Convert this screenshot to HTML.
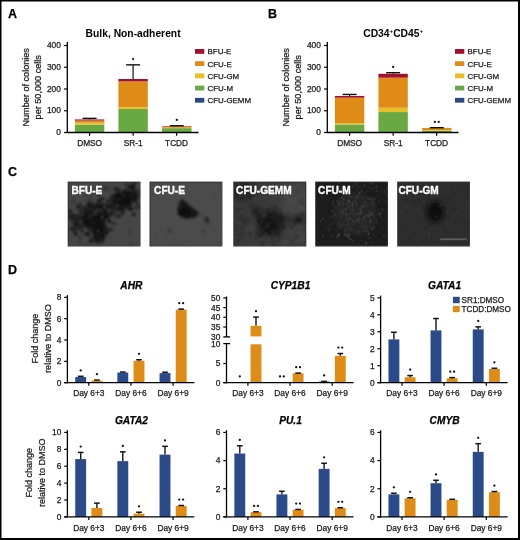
<!DOCTYPE html>
<html><head><meta charset="utf-8"><style>
html,body{margin:0;padding:0;background:#fff;width:520px;height:540px;overflow:hidden}
svg{display:block;will-change:transform}
text{font-family:"Liberation Sans", sans-serif;paint-order:stroke}
</style></head><body>
<svg width="520" height="540" viewBox="0 0 520 540" font-family='"Liberation Sans", sans-serif'>
<rect x="0.00" y="0.00" width="520.00" height="540.00" fill="#fff"/>
<text x="8.00" y="17.80" font-size="12.5" text-anchor="start" font-weight="bold" font-style="normal" fill="#000" stroke="#000" stroke-width="0.25">A</text>
<text x="133.1" y="36.7" font-size="10.3" font-weight="bold" text-anchor="middle" fill="#000">Bulk, Non-adherent</text>
<rect x="74.90" y="124.67" width="29.40" height="7.83" fill="#69a842"/>
<rect x="74.90" y="122.71" width="29.40" height="1.96" fill="#e8bf2a"/>
<rect x="74.90" y="120.54" width="29.40" height="2.17" fill="#df8b18"/>
<rect x="74.90" y="119.45" width="29.40" height="1.09" fill="#a3102e"/>
<line x1="89.60" y1="119.45" x2="89.60" y2="118.36" stroke="#111" stroke-width="1.2"/>
<line x1="82.60" y1="118.36" x2="96.60" y2="118.36" stroke="#111" stroke-width="1.4"/>
<rect x="118.40" y="109.01" width="29.40" height="23.49" fill="#69a842"/>
<rect x="118.40" y="107.27" width="29.40" height="1.74" fill="#e8bf2a"/>
<rect x="118.40" y="81.39" width="29.40" height="25.88" fill="#df8b18"/>
<rect x="118.40" y="79.00" width="29.40" height="2.39" fill="#a3102e"/>
<line x1="133.10" y1="79.00" x2="133.10" y2="64.86" stroke="#111" stroke-width="1.2"/>
<line x1="126.10" y1="64.86" x2="140.10" y2="64.86" stroke="#111" stroke-width="1.4"/>
<circle cx="133.10" cy="59.06" r="1.15" fill="#111"/>
<rect x="162.10" y="128.15" width="29.40" height="4.35" fill="#69a842"/>
<rect x="162.10" y="127.72" width="29.40" height="0.43" fill="#e8bf2a"/>
<rect x="162.10" y="126.41" width="29.40" height="1.30" fill="#df8b18"/>
<rect x="162.10" y="125.97" width="29.40" height="0.43" fill="#a3102e"/>
<line x1="176.80" y1="125.97" x2="176.80" y2="125.76" stroke="#111" stroke-width="1.2"/>
<line x1="169.80" y1="125.76" x2="183.80" y2="125.76" stroke="#111" stroke-width="1.4"/>
<circle cx="176.80" cy="119.96" r="1.15" fill="#111"/>
<line x1="67.30" y1="42.00" x2="67.30" y2="133.10" stroke="#000" stroke-width="1.3"/>
<line x1="66.70" y1="132.50" x2="198.50" y2="132.50" stroke="#000" stroke-width="1.3"/>
<line x1="64.10" y1="132.50" x2="67.30" y2="132.50" stroke="#000" stroke-width="1.2"/>
<text x="60.90" y="135.00" font-size="8.4" text-anchor="end" font-weight="normal" font-style="normal" fill="#1a1a1a" stroke="#1a1a1a" stroke-width="0.25">0</text>
<line x1="64.10" y1="110.75" x2="67.30" y2="110.75" stroke="#000" stroke-width="1.2"/>
<text x="60.90" y="113.25" font-size="8.4" text-anchor="end" font-weight="normal" font-style="normal" fill="#1a1a1a" stroke="#1a1a1a" stroke-width="0.25">100</text>
<line x1="64.10" y1="89.00" x2="67.30" y2="89.00" stroke="#000" stroke-width="1.2"/>
<text x="60.90" y="91.50" font-size="8.4" text-anchor="end" font-weight="normal" font-style="normal" fill="#1a1a1a" stroke="#1a1a1a" stroke-width="0.25">200</text>
<line x1="64.10" y1="67.25" x2="67.30" y2="67.25" stroke="#000" stroke-width="1.2"/>
<text x="60.90" y="69.75" font-size="8.4" text-anchor="end" font-weight="normal" font-style="normal" fill="#1a1a1a" stroke="#1a1a1a" stroke-width="0.25">300</text>
<line x1="64.10" y1="45.50" x2="67.30" y2="45.50" stroke="#000" stroke-width="1.2"/>
<text x="60.90" y="48.00" font-size="8.4" text-anchor="end" font-weight="normal" font-style="normal" fill="#1a1a1a" stroke="#1a1a1a" stroke-width="0.25">400</text>
<line x1="89.60" y1="132.50" x2="89.60" y2="135.70" stroke="#000" stroke-width="1.2"/>
<text x="89.60" y="146.30" font-size="8.3" text-anchor="middle" font-weight="normal" font-style="normal" fill="#1a1a1a" stroke="#1a1a1a" stroke-width="0.25">DMSO</text>
<line x1="133.20" y1="132.50" x2="133.20" y2="135.70" stroke="#000" stroke-width="1.2"/>
<text x="133.20" y="146.30" font-size="8.3" text-anchor="middle" font-weight="normal" font-style="normal" fill="#1a1a1a" stroke="#1a1a1a" stroke-width="0.25">SR-1</text>
<line x1="176.60" y1="132.50" x2="176.60" y2="135.70" stroke="#000" stroke-width="1.2"/>
<text x="176.60" y="146.30" font-size="8.3" text-anchor="middle" font-weight="normal" font-style="normal" fill="#1a1a1a" stroke="#1a1a1a" stroke-width="0.25">TCDD</text>
<text transform="translate(29.0,87.3) rotate(-90) scale(0.96,1)" font-size="9.5" text-anchor="middle" fill="#1a1a1a" stroke="#1a1a1a" stroke-width="0.25">Number of colonies</text>
<text transform="translate(40.9,87.3) rotate(-90) scale(0.96,1)" font-size="9.5" text-anchor="middle" fill="#1a1a1a" stroke="#1a1a1a" stroke-width="0.25">per 50,000 cells</text>
<rect x="195.00" y="49.00" width="9.30" height="4.80" fill="#a3102e"/>
<text x="207.60" y="54.30" font-size="7.9" text-anchor="start" font-weight="normal" font-style="normal" fill="#1a1a1a" stroke="#1a1a1a" stroke-width="0.25">BFU-E</text>
<rect x="195.00" y="61.22" width="9.30" height="4.80" fill="#df8b18"/>
<text x="207.60" y="66.52" font-size="7.9" text-anchor="start" font-weight="normal" font-style="normal" fill="#1a1a1a" stroke="#1a1a1a" stroke-width="0.25">CFU-E</text>
<rect x="195.00" y="73.44" width="9.30" height="4.80" fill="#e8bf2a"/>
<text x="207.60" y="78.74" font-size="7.9" text-anchor="start" font-weight="normal" font-style="normal" fill="#1a1a1a" stroke="#1a1a1a" stroke-width="0.25">CFU-GM</text>
<rect x="195.00" y="85.66" width="9.30" height="4.80" fill="#69a842"/>
<text x="207.60" y="90.96" font-size="7.9" text-anchor="start" font-weight="normal" font-style="normal" fill="#1a1a1a" stroke="#1a1a1a" stroke-width="0.25">CFU-M</text>
<rect x="195.00" y="97.88" width="9.30" height="4.80" fill="#2c4a7e"/>
<text x="207.60" y="103.18" font-size="7.9" text-anchor="start" font-weight="normal" font-style="normal" fill="#1a1a1a" stroke="#1a1a1a" stroke-width="0.25">CFU-GEMM</text>
<text x="268.00" y="17.80" font-size="12.5" text-anchor="start" font-weight="bold" font-style="normal" fill="#000" stroke="#000" stroke-width="0.25">B</text>
<text x="393.2" y="36.5" font-size="10.3" font-weight="bold" text-anchor="middle" fill="#000">CD34<tspan font-size="6.2" dy="-3.9">+</tspan><tspan dy="3.9">CD45</tspan><tspan font-size="6.2" dy="-3.9">+</tspan></text>
<rect x="334.90" y="124.45" width="29.40" height="8.05" fill="#69a842"/>
<rect x="334.90" y="123.15" width="29.40" height="1.30" fill="#e8bf2a"/>
<rect x="334.90" y="97.70" width="29.40" height="25.45" fill="#df8b18"/>
<rect x="334.90" y="95.96" width="29.40" height="1.74" fill="#a3102e"/>
<line x1="349.60" y1="95.96" x2="349.60" y2="94.44" stroke="#111" stroke-width="1.2"/>
<line x1="342.60" y1="94.44" x2="356.60" y2="94.44" stroke="#111" stroke-width="1.4"/>
<rect x="378.40" y="112.06" width="29.40" height="20.45" fill="#69a842"/>
<rect x="378.40" y="107.70" width="29.40" height="4.35" fill="#e8bf2a"/>
<rect x="378.40" y="77.69" width="29.40" height="30.02" fill="#df8b18"/>
<rect x="378.40" y="73.78" width="29.40" height="3.92" fill="#a3102e"/>
<line x1="393.10" y1="73.78" x2="393.10" y2="72.69" stroke="#111" stroke-width="1.2"/>
<line x1="386.10" y1="72.69" x2="400.10" y2="72.69" stroke="#111" stroke-width="1.4"/>
<circle cx="393.10" cy="66.89" r="1.15" fill="#111"/>
<rect x="422.10" y="130.76" width="29.40" height="1.74" fill="#69a842"/>
<rect x="422.10" y="130.11" width="29.40" height="0.65" fill="#e8bf2a"/>
<rect x="422.10" y="127.93" width="29.40" height="2.17" fill="#df8b18"/>
<rect x="422.10" y="127.93" width="29.40" height="0.00" fill="#a3102e"/>
<line x1="436.80" y1="127.93" x2="436.80" y2="127.72" stroke="#111" stroke-width="1.2"/>
<line x1="429.80" y1="127.72" x2="443.80" y2="127.72" stroke="#111" stroke-width="1.4"/>
<circle cx="434.90" cy="121.92" r="1.15" fill="#111"/>
<circle cx="438.70" cy="121.92" r="1.15" fill="#111"/>
<line x1="327.30" y1="42.00" x2="327.30" y2="133.10" stroke="#000" stroke-width="1.3"/>
<line x1="326.70" y1="132.50" x2="458.50" y2="132.50" stroke="#000" stroke-width="1.3"/>
<line x1="324.10" y1="132.50" x2="327.30" y2="132.50" stroke="#000" stroke-width="1.2"/>
<text x="320.90" y="135.00" font-size="8.4" text-anchor="end" font-weight="normal" font-style="normal" fill="#1a1a1a" stroke="#1a1a1a" stroke-width="0.25">0</text>
<line x1="324.10" y1="110.75" x2="327.30" y2="110.75" stroke="#000" stroke-width="1.2"/>
<text x="320.90" y="113.25" font-size="8.4" text-anchor="end" font-weight="normal" font-style="normal" fill="#1a1a1a" stroke="#1a1a1a" stroke-width="0.25">100</text>
<line x1="324.10" y1="89.00" x2="327.30" y2="89.00" stroke="#000" stroke-width="1.2"/>
<text x="320.90" y="91.50" font-size="8.4" text-anchor="end" font-weight="normal" font-style="normal" fill="#1a1a1a" stroke="#1a1a1a" stroke-width="0.25">200</text>
<line x1="324.10" y1="67.25" x2="327.30" y2="67.25" stroke="#000" stroke-width="1.2"/>
<text x="320.90" y="69.75" font-size="8.4" text-anchor="end" font-weight="normal" font-style="normal" fill="#1a1a1a" stroke="#1a1a1a" stroke-width="0.25">300</text>
<line x1="324.10" y1="45.50" x2="327.30" y2="45.50" stroke="#000" stroke-width="1.2"/>
<text x="320.90" y="48.00" font-size="8.4" text-anchor="end" font-weight="normal" font-style="normal" fill="#1a1a1a" stroke="#1a1a1a" stroke-width="0.25">400</text>
<line x1="349.60" y1="132.50" x2="349.60" y2="135.70" stroke="#000" stroke-width="1.2"/>
<text x="349.60" y="146.30" font-size="8.3" text-anchor="middle" font-weight="normal" font-style="normal" fill="#1a1a1a" stroke="#1a1a1a" stroke-width="0.25">DMSO</text>
<line x1="393.20" y1="132.50" x2="393.20" y2="135.70" stroke="#000" stroke-width="1.2"/>
<text x="393.20" y="146.30" font-size="8.3" text-anchor="middle" font-weight="normal" font-style="normal" fill="#1a1a1a" stroke="#1a1a1a" stroke-width="0.25">SR-1</text>
<line x1="436.60" y1="132.50" x2="436.60" y2="135.70" stroke="#000" stroke-width="1.2"/>
<text x="436.60" y="146.30" font-size="8.3" text-anchor="middle" font-weight="normal" font-style="normal" fill="#1a1a1a" stroke="#1a1a1a" stroke-width="0.25">TCDD</text>
<text transform="translate(289.0,87.3) rotate(-90) scale(0.96,1)" font-size="9.5" text-anchor="middle" fill="#1a1a1a" stroke="#1a1a1a" stroke-width="0.25">Number of colonies</text>
<text transform="translate(300.9,87.3) rotate(-90) scale(0.96,1)" font-size="9.5" text-anchor="middle" fill="#1a1a1a" stroke="#1a1a1a" stroke-width="0.25">per 50,000 cells</text>
<rect x="455.00" y="49.00" width="9.30" height="4.80" fill="#a3102e"/>
<text x="467.60" y="54.30" font-size="7.9" text-anchor="start" font-weight="normal" font-style="normal" fill="#1a1a1a" stroke="#1a1a1a" stroke-width="0.25">BFU-E</text>
<rect x="455.00" y="61.22" width="9.30" height="4.80" fill="#df8b18"/>
<text x="467.60" y="66.52" font-size="7.9" text-anchor="start" font-weight="normal" font-style="normal" fill="#1a1a1a" stroke="#1a1a1a" stroke-width="0.25">CFU-E</text>
<rect x="455.00" y="73.44" width="9.30" height="4.80" fill="#e8bf2a"/>
<text x="467.60" y="78.74" font-size="7.9" text-anchor="start" font-weight="normal" font-style="normal" fill="#1a1a1a" stroke="#1a1a1a" stroke-width="0.25">CFU-GM</text>
<rect x="455.00" y="85.66" width="9.30" height="4.80" fill="#69a842"/>
<text x="467.60" y="90.96" font-size="7.9" text-anchor="start" font-weight="normal" font-style="normal" fill="#1a1a1a" stroke="#1a1a1a" stroke-width="0.25">CFU-M</text>
<rect x="455.00" y="97.88" width="9.30" height="4.80" fill="#2c4a7e"/>
<text x="467.60" y="103.18" font-size="7.9" text-anchor="start" font-weight="normal" font-style="normal" fill="#1a1a1a" stroke="#1a1a1a" stroke-width="0.25">CFU-GEMM</text>
<text x="8.00" y="175.60" font-size="12.5" text-anchor="start" font-weight="bold" font-style="normal" fill="#000" stroke="#000" stroke-width="0.25">C</text>
<svg x="67.7" y="181.6" width="72.5" height="64.6" viewBox="0 0 72.5 64.6">
<defs><filter id="bl1" x="-20%" y="-20%" width="140%" height="140%"><feGaussianBlur stdDeviation="0.9"/></filter><filter id="bb1" x="-50%" y="-50%" width="200%" height="200%"><feGaussianBlur stdDeviation="2.2"/></filter></defs>
<rect width="72.5" height="64.6" fill="#464646"/>
<g filter="url(#bb1)">
<ellipse cx="27.0" cy="36.0" rx="14.0" ry="11.0" fill="#141414" opacity="0.90" transform="rotate(-20 27.0 36.0)"/>
<ellipse cx="54.0" cy="20.0" rx="13.0" ry="8.0" fill="#1a1a1a" opacity="0.85" transform="rotate(-30 54.0 20.0)"/>
<ellipse cx="31.0" cy="53.0" rx="6.0" ry="7.0" fill="#1a1a1a" opacity="0.80" transform="rotate(0 31.0 53.0)"/>
<ellipse cx="10.0" cy="40.0" rx="5.0" ry="10.0" fill="#2a2a2a" opacity="0.50" transform="rotate(0 10.0 40.0)"/>
</g>
<g filter="url(#bl1)">
<circle cx="39.9" cy="49.0" r="1.8" fill="#0e0e0e" opacity="0.69"/>
<circle cx="16.1" cy="36.3" r="1.7" fill="#0e0e0e" opacity="0.88"/>
<circle cx="29.0" cy="37.2" r="1.9" fill="#0e0e0e" opacity="0.75"/>
<circle cx="27.1" cy="35.4" r="1.5" fill="#0e0e0e" opacity="0.85"/>
<circle cx="30.2" cy="57.5" r="1.9" fill="#0e0e0e" opacity="0.61"/>
<circle cx="39.3" cy="37.8" r="1.9" fill="#0e0e0e" opacity="0.73"/>
<circle cx="29.2" cy="45.2" r="1.1" fill="#0e0e0e" opacity="0.68"/>
<circle cx="16.2" cy="40.0" r="1.3" fill="#0e0e0e" opacity="0.68"/>
<circle cx="29.2" cy="45.8" r="1.4" fill="#0e0e0e" opacity="0.61"/>
<circle cx="33.7" cy="26.2" r="1.7" fill="#0e0e0e" opacity="0.67"/>
<circle cx="46.8" cy="35.2" r="1.2" fill="#0e0e0e" opacity="0.72"/>
<circle cx="24.2" cy="22.0" r="1.9" fill="#0e0e0e" opacity="0.75"/>
<circle cx="34.2" cy="24.3" r="1.4" fill="#0e0e0e" opacity="0.81"/>
<circle cx="41.3" cy="24.3" r="1.6" fill="#0e0e0e" opacity="0.81"/>
<circle cx="34.3" cy="37.4" r="1.8" fill="#0e0e0e" opacity="0.75"/>
<circle cx="32.9" cy="46.1" r="1.7" fill="#0e0e0e" opacity="0.84"/>
<circle cx="19.4" cy="42.9" r="1.6" fill="#0e0e0e" opacity="0.87"/>
<circle cx="17.1" cy="34.8" r="1.5" fill="#0e0e0e" opacity="0.61"/>
<circle cx="42.0" cy="39.8" r="2.0" fill="#0e0e0e" opacity="0.81"/>
<circle cx="22.2" cy="39.4" r="1.6" fill="#0e0e0e" opacity="0.94"/>
<circle cx="28.6" cy="24.9" r="1.9" fill="#0e0e0e" opacity="0.68"/>
<circle cx="2.4" cy="34.1" r="1.6" fill="#0e0e0e" opacity="0.76"/>
<circle cx="25.5" cy="47.3" r="2.0" fill="#0e0e0e" opacity="0.60"/>
<circle cx="30.9" cy="19.7" r="1.9" fill="#0e0e0e" opacity="0.86"/>
<circle cx="31.4" cy="25.9" r="1.6" fill="#0e0e0e" opacity="0.75"/>
<circle cx="46.0" cy="42.3" r="1.6" fill="#0e0e0e" opacity="0.67"/>
<circle cx="15.5" cy="35.7" r="1.4" fill="#0e0e0e" opacity="0.72"/>
<circle cx="13.4" cy="33.0" r="1.7" fill="#0e0e0e" opacity="0.76"/>
<circle cx="34.1" cy="37.1" r="1.3" fill="#0e0e0e" opacity="0.80"/>
<circle cx="38.5" cy="23.7" r="1.8" fill="#0e0e0e" opacity="0.89"/>
<circle cx="26.4" cy="53.3" r="1.7" fill="#0e0e0e" opacity="0.63"/>
<circle cx="28.7" cy="36.2" r="1.8" fill="#0e0e0e" opacity="0.69"/>
<circle cx="37.8" cy="44.0" r="1.4" fill="#0e0e0e" opacity="0.62"/>
<circle cx="33.6" cy="45.3" r="1.3" fill="#0e0e0e" opacity="0.70"/>
<circle cx="24.4" cy="26.4" r="1.4" fill="#0e0e0e" opacity="0.77"/>
<circle cx="36.8" cy="37.3" r="1.5" fill="#0e0e0e" opacity="0.67"/>
<circle cx="43.6" cy="48.2" r="1.6" fill="#0e0e0e" opacity="0.67"/>
<circle cx="12.5" cy="25.8" r="1.1" fill="#0e0e0e" opacity="0.61"/>
<circle cx="36.6" cy="47.4" r="1.2" fill="#0e0e0e" opacity="0.85"/>
<circle cx="21.5" cy="25.8" r="1.3" fill="#0e0e0e" opacity="0.94"/>
<circle cx="30.6" cy="25.6" r="1.3" fill="#0e0e0e" opacity="0.83"/>
<circle cx="16.7" cy="43.2" r="1.4" fill="#0e0e0e" opacity="0.82"/>
<circle cx="34.9" cy="38.7" r="2.0" fill="#0e0e0e" opacity="0.91"/>
<circle cx="20.1" cy="52.7" r="1.4" fill="#0e0e0e" opacity="0.93"/>
<circle cx="26.6" cy="26.7" r="1.3" fill="#0e0e0e" opacity="0.60"/>
<circle cx="29.0" cy="34.3" r="1.8" fill="#0e0e0e" opacity="0.94"/>
<circle cx="21.5" cy="33.6" r="1.9" fill="#0e0e0e" opacity="0.94"/>
<circle cx="23.6" cy="25.7" r="1.4" fill="#0e0e0e" opacity="0.72"/>
<circle cx="31.1" cy="49.0" r="1.5" fill="#0e0e0e" opacity="0.67"/>
<circle cx="38.7" cy="44.1" r="1.4" fill="#0e0e0e" opacity="0.77"/>
<circle cx="17.8" cy="52.2" r="1.9" fill="#0e0e0e" opacity="0.61"/>
<circle cx="29.7" cy="43.6" r="2.0" fill="#0e0e0e" opacity="0.87"/>
<circle cx="23.3" cy="41.3" r="1.7" fill="#0e0e0e" opacity="0.89"/>
<circle cx="35.4" cy="32.6" r="1.9" fill="#0e0e0e" opacity="0.84"/>
<circle cx="-2.0" cy="38.5" r="1.3" fill="#0e0e0e" opacity="0.85"/>
<circle cx="32.3" cy="38.8" r="1.9" fill="#0e0e0e" opacity="0.67"/>
<circle cx="27.8" cy="23.8" r="1.9" fill="#0e0e0e" opacity="0.73"/>
<circle cx="22.5" cy="42.3" r="1.9" fill="#0e0e0e" opacity="0.81"/>
<circle cx="47.0" cy="30.7" r="1.2" fill="#0e0e0e" opacity="0.79"/>
<circle cx="29.2" cy="37.5" r="1.2" fill="#0e0e0e" opacity="0.90"/>
<circle cx="31.5" cy="19.6" r="1.4" fill="#0e0e0e" opacity="0.82"/>
<circle cx="28.9" cy="27.4" r="1.6" fill="#0e0e0e" opacity="0.68"/>
<circle cx="33.9" cy="39.5" r="1.9" fill="#0e0e0e" opacity="0.80"/>
<circle cx="36.9" cy="31.5" r="1.3" fill="#0e0e0e" opacity="0.88"/>
<circle cx="27.7" cy="34.7" r="1.7" fill="#0e0e0e" opacity="0.63"/>
<circle cx="42.6" cy="48.4" r="1.1" fill="#0e0e0e" opacity="0.68"/>
<circle cx="37.4" cy="35.3" r="1.2" fill="#0e0e0e" opacity="0.66"/>
<circle cx="27.9" cy="50.8" r="1.2" fill="#0e0e0e" opacity="0.92"/>
<circle cx="7.9" cy="52.5" r="1.9" fill="#0e0e0e" opacity="0.70"/>
<circle cx="26.8" cy="46.2" r="1.2" fill="#0e0e0e" opacity="0.83"/>
<circle cx="28.4" cy="36.3" r="2.0" fill="#0e0e0e" opacity="0.70"/>
<circle cx="18.0" cy="30.4" r="1.4" fill="#0e0e0e" opacity="0.62"/>
<circle cx="49.6" cy="23.7" r="2.0" fill="#0e0e0e" opacity="0.64"/>
<circle cx="30.0" cy="48.2" r="2.0" fill="#0e0e0e" opacity="0.79"/>
<circle cx="21.4" cy="23.7" r="1.3" fill="#0e0e0e" opacity="0.79"/>
<circle cx="24.3" cy="42.3" r="1.2" fill="#0e0e0e" opacity="0.70"/>
<circle cx="37.8" cy="35.0" r="1.7" fill="#0e0e0e" opacity="0.83"/>
<circle cx="36.3" cy="32.7" r="1.4" fill="#0e0e0e" opacity="0.71"/>
<circle cx="19.1" cy="51.9" r="1.9" fill="#0e0e0e" opacity="0.71"/>
<circle cx="20.7" cy="45.7" r="1.6" fill="#0e0e0e" opacity="0.81"/>
<circle cx="27.1" cy="37.8" r="1.3" fill="#0e0e0e" opacity="0.63"/>
<circle cx="23.4" cy="34.9" r="1.2" fill="#0e0e0e" opacity="0.82"/>
<circle cx="22.5" cy="51.4" r="1.5" fill="#0e0e0e" opacity="0.90"/>
<circle cx="33.7" cy="44.8" r="1.8" fill="#0e0e0e" opacity="0.63"/>
<circle cx="32.9" cy="34.3" r="1.8" fill="#0e0e0e" opacity="0.94"/>
<circle cx="30.8" cy="28.9" r="1.2" fill="#0e0e0e" opacity="0.78"/>
<circle cx="34.3" cy="32.4" r="1.9" fill="#0e0e0e" opacity="0.65"/>
<circle cx="29.1" cy="34.8" r="1.4" fill="#0e0e0e" opacity="0.92"/>
<circle cx="34.2" cy="17.5" r="1.9" fill="#0e0e0e" opacity="0.86"/>
<circle cx="24.7" cy="30.8" r="1.5" fill="#0e0e0e" opacity="0.66"/>
<circle cx="23.7" cy="23.0" r="1.3" fill="#0e0e0e" opacity="0.62"/>
<circle cx="44.7" cy="32.3" r="1.6" fill="#0e0e0e" opacity="0.79"/>
<circle cx="33.5" cy="28.0" r="1.5" fill="#0e0e0e" opacity="0.72"/>
<circle cx="26.9" cy="38.0" r="1.7" fill="#0e0e0e" opacity="0.75"/>
<circle cx="23.8" cy="34.6" r="1.4" fill="#0e0e0e" opacity="0.65"/>
<circle cx="32.5" cy="40.9" r="1.8" fill="#0e0e0e" opacity="0.74"/>
<circle cx="15.8" cy="43.2" r="1.3" fill="#0e0e0e" opacity="0.60"/>
<circle cx="15.4" cy="34.1" r="1.7" fill="#0e0e0e" opacity="0.75"/>
<circle cx="20.7" cy="22.6" r="1.3" fill="#0e0e0e" opacity="0.77"/>
<circle cx="19.9" cy="36.9" r="1.5" fill="#0e0e0e" opacity="0.80"/>
<circle cx="45.6" cy="24.9" r="1.3" fill="#0e0e0e" opacity="0.83"/>
<circle cx="30.7" cy="37.0" r="1.6" fill="#0e0e0e" opacity="0.91"/>
<circle cx="36.2" cy="48.9" r="1.9" fill="#0e0e0e" opacity="0.71"/>
<circle cx="20.1" cy="19.6" r="1.4" fill="#0e0e0e" opacity="0.85"/>
<circle cx="25.9" cy="24.0" r="1.9" fill="#0e0e0e" opacity="0.91"/>
<circle cx="39.6" cy="33.1" r="1.3" fill="#0e0e0e" opacity="0.69"/>
<circle cx="29.6" cy="47.4" r="1.8" fill="#0e0e0e" opacity="0.62"/>
<circle cx="20.4" cy="23.0" r="1.4" fill="#0e0e0e" opacity="0.78"/>
<circle cx="35.3" cy="48.5" r="1.1" fill="#0e0e0e" opacity="0.94"/>
<circle cx="32.0" cy="24.2" r="1.3" fill="#0e0e0e" opacity="0.92"/>
<circle cx="32.3" cy="34.8" r="1.8" fill="#0e0e0e" opacity="0.89"/>
<circle cx="18.7" cy="24.2" r="1.5" fill="#0e0e0e" opacity="0.92"/>
<circle cx="36.7" cy="34.4" r="1.8" fill="#0e0e0e" opacity="0.75"/>
<circle cx="31.5" cy="42.9" r="1.2" fill="#0e0e0e" opacity="0.92"/>
<circle cx="31.9" cy="34.9" r="1.6" fill="#0e0e0e" opacity="0.74"/>
<circle cx="33.2" cy="41.1" r="1.3" fill="#0e0e0e" opacity="0.86"/>
<circle cx="33.5" cy="36.1" r="1.5" fill="#0e0e0e" opacity="0.61"/>
<circle cx="17.5" cy="27.2" r="1.9" fill="#0e0e0e" opacity="0.67"/>
<circle cx="24.3" cy="47.0" r="1.3" fill="#0e0e0e" opacity="0.81"/>
<circle cx="26.9" cy="49.7" r="1.8" fill="#0e0e0e" opacity="0.88"/>
<circle cx="39.4" cy="34.1" r="1.5" fill="#0e0e0e" opacity="0.90"/>
<circle cx="28.6" cy="24.4" r="1.4" fill="#0e0e0e" opacity="0.70"/>
<circle cx="41.1" cy="46.3" r="1.2" fill="#0e0e0e" opacity="0.86"/>
<circle cx="2.2" cy="29.5" r="1.8" fill="#0e0e0e" opacity="0.94"/>
<circle cx="34.7" cy="44.0" r="1.6" fill="#0e0e0e" opacity="0.71"/>
<circle cx="17.6" cy="35.8" r="1.6" fill="#0e0e0e" opacity="0.60"/>
<circle cx="16.8" cy="39.5" r="1.4" fill="#0e0e0e" opacity="0.74"/>
<circle cx="30.1" cy="22.6" r="1.5" fill="#0e0e0e" opacity="0.83"/>
<circle cx="22.1" cy="40.2" r="1.1" fill="#0e0e0e" opacity="0.70"/>
<circle cx="10.1" cy="25.2" r="1.8" fill="#0e0e0e" opacity="0.78"/>
<circle cx="38.1" cy="35.2" r="1.9" fill="#0e0e0e" opacity="0.74"/>
<circle cx="26.0" cy="9.3" r="1.4" fill="#0e0e0e" opacity="0.66"/>
<circle cx="18.0" cy="28.4" r="1.4" fill="#0e0e0e" opacity="0.60"/>
<circle cx="18.9" cy="42.1" r="1.5" fill="#0e0e0e" opacity="0.90"/>
<circle cx="13.0" cy="28.6" r="1.9" fill="#0e0e0e" opacity="0.86"/>
<circle cx="10.5" cy="36.7" r="1.7" fill="#0e0e0e" opacity="0.83"/>
<circle cx="20.0" cy="29.3" r="1.7" fill="#0e0e0e" opacity="0.82"/>
<circle cx="43.1" cy="29.9" r="1.9" fill="#0e0e0e" opacity="0.87"/>
<circle cx="32.4" cy="24.7" r="1.4" fill="#0e0e0e" opacity="0.69"/>
<circle cx="21.7" cy="18.3" r="1.6" fill="#0e0e0e" opacity="0.65"/>
<circle cx="59.2" cy="13.0" r="1.5" fill="#0e0e0e" opacity="0.62"/>
<circle cx="39.2" cy="19.3" r="1.5" fill="#0e0e0e" opacity="0.72"/>
<circle cx="53.0" cy="18.8" r="1.6" fill="#0e0e0e" opacity="0.93"/>
<circle cx="50.7" cy="13.4" r="1.7" fill="#0e0e0e" opacity="0.81"/>
<circle cx="55.6" cy="24.6" r="1.9" fill="#0e0e0e" opacity="0.69"/>
<circle cx="69.1" cy="26.0" r="1.6" fill="#0e0e0e" opacity="0.73"/>
<circle cx="39.3" cy="19.2" r="1.3" fill="#0e0e0e" opacity="0.83"/>
<circle cx="50.2" cy="7.5" r="1.3" fill="#0e0e0e" opacity="0.81"/>
<circle cx="55.3" cy="28.9" r="1.3" fill="#0e0e0e" opacity="0.88"/>
<circle cx="59.4" cy="15.3" r="1.3" fill="#0e0e0e" opacity="0.94"/>
<circle cx="49.3" cy="7.0" r="1.1" fill="#0e0e0e" opacity="0.91"/>
<circle cx="48.4" cy="15.8" r="1.5" fill="#0e0e0e" opacity="0.87"/>
<circle cx="55.3" cy="15.6" r="1.7" fill="#0e0e0e" opacity="0.66"/>
<circle cx="63.6" cy="18.7" r="1.9" fill="#0e0e0e" opacity="0.85"/>
<circle cx="48.5" cy="16.6" r="1.6" fill="#0e0e0e" opacity="0.65"/>
<circle cx="63.2" cy="28.5" r="1.4" fill="#0e0e0e" opacity="0.86"/>
<circle cx="54.9" cy="31.1" r="1.7" fill="#0e0e0e" opacity="0.71"/>
<circle cx="61.1" cy="24.4" r="1.5" fill="#0e0e0e" opacity="0.63"/>
<circle cx="55.2" cy="22.2" r="1.6" fill="#0e0e0e" opacity="0.91"/>
<circle cx="54.5" cy="21.8" r="1.7" fill="#0e0e0e" opacity="0.89"/>
<circle cx="66.1" cy="17.8" r="1.4" fill="#0e0e0e" opacity="0.89"/>
<circle cx="64.2" cy="27.3" r="1.2" fill="#0e0e0e" opacity="0.74"/>
<circle cx="45.2" cy="20.2" r="1.3" fill="#0e0e0e" opacity="0.68"/>
<circle cx="58.3" cy="12.9" r="1.6" fill="#0e0e0e" opacity="0.67"/>
<circle cx="52.2" cy="13.9" r="1.6" fill="#0e0e0e" opacity="0.92"/>
<circle cx="56.8" cy="19.9" r="1.8" fill="#0e0e0e" opacity="0.90"/>
<circle cx="50.3" cy="26.2" r="1.6" fill="#0e0e0e" opacity="0.92"/>
<circle cx="39.0" cy="28.5" r="1.8" fill="#0e0e0e" opacity="0.65"/>
<circle cx="55.3" cy="19.4" r="1.2" fill="#0e0e0e" opacity="0.83"/>
<circle cx="62.2" cy="22.4" r="1.2" fill="#0e0e0e" opacity="0.76"/>
<circle cx="64.5" cy="7.1" r="1.1" fill="#0e0e0e" opacity="0.62"/>
<circle cx="55.4" cy="18.3" r="1.3" fill="#0e0e0e" opacity="0.64"/>
<circle cx="55.8" cy="20.9" r="1.7" fill="#0e0e0e" opacity="0.86"/>
<circle cx="47.3" cy="7.5" r="1.7" fill="#0e0e0e" opacity="0.74"/>
<circle cx="37.8" cy="6.4" r="1.7" fill="#0e0e0e" opacity="0.69"/>
<circle cx="73.6" cy="26.0" r="1.6" fill="#0e0e0e" opacity="0.72"/>
<circle cx="44.9" cy="14.5" r="1.6" fill="#0e0e0e" opacity="0.62"/>
<circle cx="48.4" cy="25.8" r="1.3" fill="#0e0e0e" opacity="0.91"/>
<circle cx="42.2" cy="24.7" r="1.7" fill="#0e0e0e" opacity="0.86"/>
<circle cx="51.3" cy="8.5" r="1.3" fill="#0e0e0e" opacity="0.94"/>
<circle cx="65.7" cy="32.7" r="1.9" fill="#0e0e0e" opacity="0.90"/>
<circle cx="57.7" cy="21.0" r="1.8" fill="#0e0e0e" opacity="0.76"/>
<circle cx="36.2" cy="34.7" r="1.1" fill="#0e0e0e" opacity="0.79"/>
<circle cx="49.6" cy="21.3" r="1.5" fill="#0e0e0e" opacity="0.85"/>
<circle cx="55.5" cy="18.9" r="1.6" fill="#0e0e0e" opacity="0.63"/>
<circle cx="55.2" cy="17.2" r="1.1" fill="#0e0e0e" opacity="0.73"/>
<circle cx="53.1" cy="14.0" r="1.2" fill="#0e0e0e" opacity="0.88"/>
<circle cx="60.2" cy="7.1" r="1.4" fill="#0e0e0e" opacity="0.75"/>
<circle cx="54.3" cy="28.9" r="1.4" fill="#0e0e0e" opacity="0.72"/>
<circle cx="58.7" cy="2.9" r="1.6" fill="#0e0e0e" opacity="0.64"/>
<circle cx="48.4" cy="13.7" r="2.0" fill="#0e0e0e" opacity="0.85"/>
<circle cx="61.1" cy="10.6" r="1.6" fill="#0e0e0e" opacity="0.91"/>
<circle cx="57.7" cy="14.9" r="1.2" fill="#0e0e0e" opacity="0.73"/>
<circle cx="50.0" cy="19.6" r="1.4" fill="#0e0e0e" opacity="0.80"/>
<circle cx="69.9" cy="23.5" r="1.7" fill="#0e0e0e" opacity="0.71"/>
<circle cx="51.5" cy="26.2" r="1.4" fill="#0e0e0e" opacity="0.86"/>
<circle cx="43.0" cy="19.9" r="1.2" fill="#0e0e0e" opacity="0.92"/>
<circle cx="50.3" cy="25.5" r="1.2" fill="#0e0e0e" opacity="0.94"/>
<circle cx="34.3" cy="22.0" r="1.9" fill="#0e0e0e" opacity="0.94"/>
<circle cx="62.2" cy="5.4" r="1.9" fill="#0e0e0e" opacity="0.88"/>
<circle cx="61.3" cy="26.4" r="1.6" fill="#0e0e0e" opacity="0.95"/>
<circle cx="57.0" cy="9.3" r="1.8" fill="#0e0e0e" opacity="0.73"/>
<circle cx="66.1" cy="16.4" r="1.5" fill="#0e0e0e" opacity="0.76"/>
<circle cx="65.0" cy="18.9" r="1.3" fill="#0e0e0e" opacity="0.65"/>
<circle cx="49.6" cy="11.7" r="1.9" fill="#0e0e0e" opacity="0.66"/>
<circle cx="41.7" cy="26.0" r="1.1" fill="#0e0e0e" opacity="0.63"/>
<circle cx="47.2" cy="18.4" r="1.2" fill="#0e0e0e" opacity="0.69"/>
<circle cx="46.6" cy="13.7" r="1.2" fill="#0e0e0e" opacity="0.63"/>
<circle cx="61.6" cy="11.9" r="1.3" fill="#0e0e0e" opacity="0.90"/>
<circle cx="62.5" cy="20.9" r="1.9" fill="#0e0e0e" opacity="0.85"/>
<circle cx="50.0" cy="34.4" r="1.6" fill="#0e0e0e" opacity="0.90"/>
<circle cx="61.4" cy="15.4" r="1.7" fill="#0e0e0e" opacity="0.79"/>
<circle cx="69.1" cy="15.7" r="1.8" fill="#0e0e0e" opacity="0.88"/>
<circle cx="60.9" cy="19.9" r="1.3" fill="#0e0e0e" opacity="0.86"/>
<circle cx="55.4" cy="11.7" r="1.5" fill="#0e0e0e" opacity="0.74"/>
<circle cx="65.9" cy="11.6" r="1.6" fill="#0e0e0e" opacity="0.61"/>
<circle cx="59.9" cy="13.8" r="1.3" fill="#0e0e0e" opacity="0.70"/>
<circle cx="53.7" cy="19.3" r="1.2" fill="#0e0e0e" opacity="0.71"/>
<circle cx="65.3" cy="12.4" r="2.0" fill="#0e0e0e" opacity="0.79"/>
<circle cx="43.7" cy="16.1" r="1.6" fill="#0e0e0e" opacity="0.79"/>
<circle cx="63.3" cy="4.3" r="1.5" fill="#0e0e0e" opacity="0.82"/>
<circle cx="51.3" cy="25.5" r="1.6" fill="#0e0e0e" opacity="0.81"/>
<circle cx="30.5" cy="14.1" r="1.2" fill="#0e0e0e" opacity="0.82"/>
<circle cx="68.7" cy="19.6" r="1.6" fill="#0e0e0e" opacity="0.73"/>
<circle cx="36.7" cy="29.5" r="1.9" fill="#0e0e0e" opacity="0.83"/>
<circle cx="70.5" cy="10.5" r="1.9" fill="#0e0e0e" opacity="0.73"/>
<circle cx="38.4" cy="22.8" r="1.4" fill="#0e0e0e" opacity="0.86"/>
<circle cx="45.9" cy="20.7" r="1.5" fill="#0e0e0e" opacity="0.64"/>
<circle cx="48.3" cy="25.7" r="1.1" fill="#0e0e0e" opacity="0.66"/>
<circle cx="52.9" cy="33.8" r="1.6" fill="#0e0e0e" opacity="0.70"/>
<circle cx="61.0" cy="19.9" r="1.6" fill="#0e0e0e" opacity="0.86"/>
<circle cx="50.5" cy="13.0" r="1.8" fill="#0e0e0e" opacity="0.77"/>
<circle cx="51.7" cy="12.1" r="2.0" fill="#0e0e0e" opacity="0.85"/>
<circle cx="58.0" cy="22.0" r="2.0" fill="#0e0e0e" opacity="0.68"/>
<circle cx="60.8" cy="20.9" r="1.5" fill="#0e0e0e" opacity="0.93"/>
<circle cx="42.4" cy="26.6" r="1.9" fill="#0e0e0e" opacity="0.63"/>
<circle cx="31.3" cy="5.0" r="1.6" fill="#0e0e0e" opacity="0.79"/>
<circle cx="41.6" cy="33.9" r="2.0" fill="#0e0e0e" opacity="0.64"/>
<circle cx="45.1" cy="17.6" r="1.7" fill="#0e0e0e" opacity="0.64"/>
<circle cx="53.3" cy="25.6" r="1.5" fill="#0e0e0e" opacity="0.88"/>
<circle cx="37.5" cy="43.8" r="1.7" fill="#0e0e0e" opacity="0.63"/>
<circle cx="26.3" cy="57.7" r="1.4" fill="#0e0e0e" opacity="0.78"/>
<circle cx="34.1" cy="50.3" r="1.9" fill="#0e0e0e" opacity="0.64"/>
<circle cx="23.8" cy="60.5" r="1.3" fill="#0e0e0e" opacity="0.78"/>
<circle cx="22.9" cy="58.3" r="2.0" fill="#0e0e0e" opacity="0.70"/>
<circle cx="21.4" cy="52.6" r="1.6" fill="#0e0e0e" opacity="0.68"/>
<circle cx="32.3" cy="46.6" r="1.5" fill="#0e0e0e" opacity="0.60"/>
<circle cx="39.3" cy="51.4" r="1.9" fill="#0e0e0e" opacity="0.94"/>
<circle cx="31.3" cy="59.4" r="1.5" fill="#0e0e0e" opacity="0.87"/>
<circle cx="34.0" cy="48.4" r="1.3" fill="#0e0e0e" opacity="0.85"/>
<circle cx="29.8" cy="53.7" r="1.3" fill="#0e0e0e" opacity="0.80"/>
<circle cx="21.7" cy="43.2" r="1.6" fill="#0e0e0e" opacity="0.81"/>
<circle cx="35.1" cy="57.0" r="1.4" fill="#0e0e0e" opacity="0.84"/>
<circle cx="31.6" cy="56.1" r="1.4" fill="#0e0e0e" opacity="0.76"/>
<circle cx="28.4" cy="59.0" r="1.3" fill="#0e0e0e" opacity="0.91"/>
<circle cx="29.9" cy="45.0" r="1.2" fill="#0e0e0e" opacity="0.71"/>
<circle cx="29.4" cy="44.0" r="1.8" fill="#0e0e0e" opacity="0.91"/>
<circle cx="29.7" cy="58.4" r="1.4" fill="#0e0e0e" opacity="0.64"/>
<circle cx="34.5" cy="55.6" r="1.2" fill="#0e0e0e" opacity="0.79"/>
<circle cx="30.1" cy="44.6" r="1.7" fill="#0e0e0e" opacity="0.68"/>
<circle cx="34.0" cy="59.4" r="1.9" fill="#0e0e0e" opacity="0.75"/>
<circle cx="33.0" cy="52.0" r="1.4" fill="#0e0e0e" opacity="0.82"/>
<circle cx="35.1" cy="54.2" r="1.7" fill="#0e0e0e" opacity="0.94"/>
<circle cx="28.3" cy="58.8" r="1.6" fill="#0e0e0e" opacity="0.61"/>
<circle cx="30.7" cy="54.9" r="1.3" fill="#0e0e0e" opacity="0.87"/>
<circle cx="31.4" cy="50.4" r="1.2" fill="#0e0e0e" opacity="0.85"/>
<circle cx="35.5" cy="55.2" r="1.3" fill="#0e0e0e" opacity="0.62"/>
<circle cx="34.7" cy="52.6" r="1.5" fill="#0e0e0e" opacity="0.93"/>
<circle cx="29.6" cy="48.6" r="1.7" fill="#0e0e0e" opacity="0.70"/>
<circle cx="27.6" cy="51.5" r="2.0" fill="#0e0e0e" opacity="0.72"/>
<circle cx="34.4" cy="43.9" r="1.9" fill="#0e0e0e" opacity="0.81"/>
<circle cx="35.5" cy="47.6" r="1.7" fill="#0e0e0e" opacity="0.82"/>
<circle cx="25.7" cy="50.7" r="1.6" fill="#0e0e0e" opacity="0.74"/>
<circle cx="37.7" cy="46.9" r="1.6" fill="#0e0e0e" opacity="0.62"/>
<circle cx="28.9" cy="51.8" r="1.3" fill="#0e0e0e" opacity="0.75"/>
<circle cx="28.4" cy="50.7" r="1.3" fill="#0e0e0e" opacity="0.79"/>
<circle cx="27.0" cy="53.0" r="1.2" fill="#0e0e0e" opacity="0.73"/>
<circle cx="28.5" cy="45.8" r="1.6" fill="#0e0e0e" opacity="0.90"/>
<circle cx="30.7" cy="43.0" r="1.1" fill="#0e0e0e" opacity="0.71"/>
<circle cx="30.8" cy="48.8" r="1.9" fill="#0e0e0e" opacity="0.65"/>
<circle cx="66.5" cy="9.6" r="1.9" fill="#0e0e0e" opacity="0.90"/>
<circle cx="58.6" cy="21.0" r="1.2" fill="#0e0e0e" opacity="0.90"/>
<circle cx="60.0" cy="15.6" r="1.2" fill="#0e0e0e" opacity="0.81"/>
<circle cx="63.1" cy="19.4" r="1.8" fill="#0e0e0e" opacity="0.81"/>
<circle cx="76.3" cy="12.6" r="1.9" fill="#0e0e0e" opacity="0.83"/>
<circle cx="59.3" cy="16.4" r="1.9" fill="#0e0e0e" opacity="0.76"/>
<circle cx="65.2" cy="5.4" r="1.5" fill="#0e0e0e" opacity="0.93"/>
<circle cx="58.3" cy="15.7" r="1.1" fill="#0e0e0e" opacity="0.76"/>
<circle cx="71.6" cy="13.8" r="1.1" fill="#0e0e0e" opacity="0.61"/>
<circle cx="66.1" cy="13.8" r="1.6" fill="#0e0e0e" opacity="0.72"/>
<circle cx="62.1" cy="26.2" r="1.9" fill="#0e0e0e" opacity="0.83"/>
<circle cx="67.0" cy="3.2" r="1.3" fill="#0e0e0e" opacity="0.88"/>
<circle cx="64.4" cy="18.4" r="1.4" fill="#0e0e0e" opacity="0.66"/>
<circle cx="65.9" cy="1.0" r="1.4" fill="#0e0e0e" opacity="0.91"/>
<circle cx="59.8" cy="18.0" r="2.0" fill="#0e0e0e" opacity="0.87"/>
<circle cx="69.0" cy="13.8" r="1.4" fill="#0e0e0e" opacity="0.70"/>
<circle cx="66.2" cy="7.1" r="1.7" fill="#0e0e0e" opacity="0.82"/>
<circle cx="62.3" cy="11.8" r="1.7" fill="#0e0e0e" opacity="0.91"/>
<circle cx="67.4" cy="18.3" r="1.5" fill="#0e0e0e" opacity="0.72"/>
<circle cx="60.7" cy="-1.2" r="1.1" fill="#0e0e0e" opacity="0.91"/>
<circle cx="57.0" cy="18.3" r="1.3" fill="#0e0e0e" opacity="0.85"/>
<circle cx="67.7" cy="14.7" r="2.0" fill="#0e0e0e" opacity="0.83"/>
<circle cx="65.2" cy="6.6" r="1.5" fill="#0e0e0e" opacity="0.77"/>
<circle cx="65.2" cy="4.1" r="1.3" fill="#0e0e0e" opacity="0.75"/>
<circle cx="57.7" cy="10.3" r="1.9" fill="#0e0e0e" opacity="0.89"/>
<circle cx="12.9" cy="48.3" r="1.2" fill="#0e0e0e" opacity="0.61"/>
<circle cx="12.8" cy="44.3" r="1.8" fill="#0e0e0e" opacity="0.83"/>
<circle cx="11.2" cy="35.7" r="1.2" fill="#0e0e0e" opacity="0.94"/>
<circle cx="15.6" cy="24.8" r="1.1" fill="#0e0e0e" opacity="0.74"/>
<circle cx="4.6" cy="32.3" r="1.9" fill="#0e0e0e" opacity="0.79"/>
<circle cx="9.6" cy="42.5" r="1.8" fill="#0e0e0e" opacity="0.94"/>
<circle cx="16.2" cy="35.5" r="1.4" fill="#0e0e0e" opacity="0.68"/>
<circle cx="11.8" cy="23.5" r="2.0" fill="#0e0e0e" opacity="0.66"/>
<circle cx="4.8" cy="37.1" r="1.5" fill="#0e0e0e" opacity="0.88"/>
<circle cx="17.4" cy="37.0" r="1.7" fill="#0e0e0e" opacity="0.84"/>
<circle cx="6.5" cy="33.8" r="1.3" fill="#0e0e0e" opacity="0.87"/>
<circle cx="15.3" cy="49.8" r="1.4" fill="#0e0e0e" opacity="0.80"/>
<circle cx="6.4" cy="34.9" r="2.0" fill="#0e0e0e" opacity="0.68"/>
<circle cx="22.4" cy="43.5" r="1.4" fill="#0e0e0e" opacity="0.70"/>
<circle cx="4.2" cy="47.4" r="2.0" fill="#0e0e0e" opacity="0.85"/>
<circle cx="7.4" cy="51.0" r="1.5" fill="#0e0e0e" opacity="0.78"/>
<circle cx="7.4" cy="44.4" r="1.5" fill="#0e0e0e" opacity="0.74"/>
<circle cx="12.8" cy="56.0" r="1.4" fill="#0e0e0e" opacity="0.65"/>
<circle cx="1.2" cy="35.7" r="1.8" fill="#0e0e0e" opacity="0.82"/>
<circle cx="9.5" cy="34.8" r="1.2" fill="#0e0e0e" opacity="0.69"/>
<circle cx="7.6" cy="47.3" r="1.5" fill="#0e0e0e" opacity="0.65"/>
<circle cx="12.6" cy="46.5" r="1.3" fill="#0e0e0e" opacity="0.88"/>
<circle cx="6.8" cy="40.8" r="1.5" fill="#0e0e0e" opacity="0.91"/>
<circle cx="4.4" cy="37.2" r="1.5" fill="#0e0e0e" opacity="0.67"/>
<circle cx="8.6" cy="39.7" r="1.8" fill="#0e0e0e" opacity="0.62"/>
<circle cx="34.7" cy="20.2" r="1.2" fill="#5a5a5a" opacity="0.5"/>
<circle cx="28.4" cy="28.6" r="1.1" fill="#5a5a5a" opacity="0.5"/>
<circle cx="45.0" cy="36.0" r="1.0" fill="#5a5a5a" opacity="0.5"/>
<circle cx="30.1" cy="49.2" r="1.4" fill="#5a5a5a" opacity="0.5"/>
<circle cx="17.2" cy="49.9" r="0.9" fill="#5a5a5a" opacity="0.5"/>
<circle cx="31.5" cy="21.3" r="1.1" fill="#5a5a5a" opacity="0.5"/>
<circle cx="58.9" cy="43.9" r="0.9" fill="#5a5a5a" opacity="0.5"/>
<circle cx="22.9" cy="34.3" r="1.3" fill="#5a5a5a" opacity="0.5"/>
<circle cx="17.7" cy="22.9" r="1.3" fill="#5a5a5a" opacity="0.5"/>
<circle cx="34.8" cy="36.2" r="1.3" fill="#5a5a5a" opacity="0.5"/>
<circle cx="24.0" cy="52.1" r="1.4" fill="#5a5a5a" opacity="0.5"/>
<circle cx="30.2" cy="27.9" r="1.3" fill="#5a5a5a" opacity="0.5"/>
<circle cx="27.5" cy="25.3" r="0.9" fill="#5a5a5a" opacity="0.5"/>
<circle cx="27.4" cy="31.7" r="1.3" fill="#5a5a5a" opacity="0.5"/>
<circle cx="27.7" cy="10.6" r="1.0" fill="#5a5a5a" opacity="0.5"/>
<circle cx="42.1" cy="29.0" r="1.2" fill="#5a5a5a" opacity="0.5"/>
<circle cx="35.0" cy="33.0" r="0.9" fill="#5a5a5a" opacity="0.5"/>
<circle cx="42.6" cy="51.4" r="1.0" fill="#5a5a5a" opacity="0.5"/>
<circle cx="14.4" cy="33.9" r="1.0" fill="#5a5a5a" opacity="0.5"/>
<circle cx="20.6" cy="18.3" r="1.4" fill="#5a5a5a" opacity="0.5"/>
<circle cx="5.5" cy="31.6" r="1.4" fill="#5a5a5a" opacity="0.5"/>
<circle cx="36.9" cy="19.5" r="1.0" fill="#5a5a5a" opacity="0.5"/>
<circle cx="58.1" cy="45.0" r="0.9" fill="#5a5a5a" opacity="0.5"/>
<circle cx="19.6" cy="27.2" r="0.8" fill="#5a5a5a" opacity="0.5"/>
<circle cx="41.2" cy="53.8" r="1.1" fill="#5a5a5a" opacity="0.5"/>
<circle cx="64.1" cy="20.0" r="0.9" fill="#5a5a5a" opacity="0.5"/>
<circle cx="33.1" cy="28.8" r="1.1" fill="#5a5a5a" opacity="0.5"/>
<circle cx="-0.1" cy="42.8" r="1.2" fill="#5a5a5a" opacity="0.5"/>
<circle cx="41.6" cy="45.3" r="1.1" fill="#5a5a5a" opacity="0.5"/>
<circle cx="39.6" cy="42.7" r="1.3" fill="#5a5a5a" opacity="0.5"/>
<circle cx="60.8" cy="29.6" r="0.8" fill="#5a5a5a" opacity="0.5"/>
<circle cx="48.8" cy="24.6" r="1.3" fill="#5a5a5a" opacity="0.5"/>
<circle cx="38.8" cy="38.1" r="1.3" fill="#5a5a5a" opacity="0.5"/>
<circle cx="34.0" cy="35.5" r="1.1" fill="#5a5a5a" opacity="0.5"/>
<circle cx="63.4" cy="30.6" r="1.0" fill="#5a5a5a" opacity="0.5"/>
<circle cx="61.7" cy="31.1" r="1.3" fill="#5a5a5a" opacity="0.5"/>
<circle cx="25.9" cy="22.5" r="1.3" fill="#5a5a5a" opacity="0.5"/>
<circle cx="0.6" cy="37.1" r="1.1" fill="#5a5a5a" opacity="0.5"/>
<circle cx="49.4" cy="24.7" r="1.1" fill="#5a5a5a" opacity="0.5"/>
<circle cx="23.9" cy="26.5" r="0.9" fill="#5a5a5a" opacity="0.5"/>
<circle cx="42.7" cy="55.0" r="1.0" fill="#222" opacity="0.5"/>
<circle cx="62.7" cy="50.8" r="1.3" fill="#222" opacity="0.5"/>
<circle cx="30.1" cy="64.5" r="1.4" fill="#222" opacity="0.5"/>
<circle cx="41.7" cy="7.3" r="1.2" fill="#222" opacity="0.5"/>
<circle cx="1.0" cy="58.3" r="1.0" fill="#222" opacity="0.5"/>
<circle cx="26.7" cy="35.6" r="1.2" fill="#222" opacity="0.5"/>
<circle cx="42.2" cy="31.3" r="1.2" fill="#222" opacity="0.5"/>
<circle cx="61.4" cy="28.8" r="1.2" fill="#222" opacity="0.5"/>
<circle cx="58.8" cy="0.2" r="0.9" fill="#222" opacity="0.5"/>
<circle cx="23.6" cy="13.8" r="1.4" fill="#222" opacity="0.5"/>
<circle cx="10.7" cy="7.0" r="1.0" fill="#222" opacity="0.5"/>
<circle cx="36.9" cy="53.1" r="1.5" fill="#222" opacity="0.5"/>
<circle cx="61.8" cy="39.3" r="0.8" fill="#222" opacity="0.5"/>
<circle cx="4.6" cy="40.7" r="1.4" fill="#222" opacity="0.5"/>
<circle cx="19.2" cy="62.6" r="1.2" fill="#222" opacity="0.5"/>
<circle cx="41.6" cy="40.0" r="0.9" fill="#222" opacity="0.5"/>
<circle cx="12.4" cy="60.5" r="1.0" fill="#222" opacity="0.5"/>
<circle cx="6.0" cy="18.2" r="1.3" fill="#222" opacity="0.5"/>
<circle cx="19.1" cy="13.6" r="1.0" fill="#222" opacity="0.5"/>
<circle cx="34.8" cy="47.6" r="1.0" fill="#222" opacity="0.5"/>
<circle cx="63.3" cy="63.0" r="1.4" fill="#222" opacity="0.5"/>
<circle cx="5.4" cy="20.4" r="1.4" fill="#222" opacity="0.5"/>
<circle cx="62.3" cy="8.6" r="1.1" fill="#222" opacity="0.5"/>
<circle cx="26.4" cy="48.3" r="0.8" fill="#222" opacity="0.5"/>
<circle cx="22.9" cy="48.4" r="1.4" fill="#222" opacity="0.5"/>
</g>
<rect x="0.4" y="0.4" width="71.7" height="63.8" fill="none" stroke="#2a2a2a" stroke-width="0.8"/>
</svg>
<text x="71.50" y="194.00" font-size="10.1" text-anchor="start" font-weight="bold" font-style="normal" fill="#fff" stroke="#fff" stroke-width="0.35">BFU-E</text>
<svg x="149.5" y="181.6" width="72.6" height="64.6" viewBox="0 0 72.6 64.6">
<defs><filter id="bl2" x="-20%" y="-20%" width="140%" height="140%"><feGaussianBlur stdDeviation="0.9"/></filter><filter id="bb2" x="-50%" y="-50%" width="200%" height="200%"><feGaussianBlur stdDeviation="2.2"/></filter></defs>
<rect width="72.6" height="64.6" fill="#4b4b4b"/>
<g filter="url(#bl2)">
<path d="M32,17.5 L36,20 Q40,24 44,27 L48.5,30 Q49.5,34 46,35.5 Q40,37.5 35,36.5 Q29,35 28,31 Q27.5,27 29.5,23 Q30.5,19 32,17.5 Z" fill="#141414"/>
<ellipse cx="35.0" cy="31.0" rx="6.0" ry="4.5" fill="#0c0c0c" opacity="0.90" transform="rotate(0 35.0 31.0)"/>
<ellipse cx="57.5" cy="38.5" rx="2.2" ry="3.2" fill="#202020" opacity="0.85" transform="rotate(-30 57.5 38.5)"/>
<ellipse cx="20.0" cy="49.0" rx="2.0" ry="1.6" fill="#2a2a2a" opacity="0.80" transform="rotate(0 20.0 49.0)"/>
<ellipse cx="54.0" cy="50.0" rx="1.6" ry="1.6" fill="#2a2a2a" opacity="0.80" transform="rotate(0 54.0 50.0)"/>
<ellipse cx="52.0" cy="33.0" rx="1.8" ry="1.4" fill="#333" opacity="0.60" transform="rotate(0 52.0 33.0)"/>
</g>
<circle cx="69.4" cy="61.2" r="0.5" fill="#404040" opacity="0.5"/>
<circle cx="6.2" cy="54.0" r="0.9" fill="#404040" opacity="0.5"/>
<circle cx="48.6" cy="19.9" r="0.8" fill="#404040" opacity="0.5"/>
<circle cx="44.1" cy="37.5" r="0.6" fill="#404040" opacity="0.5"/>
<circle cx="31.3" cy="25.4" r="0.9" fill="#404040" opacity="0.5"/>
<circle cx="72.2" cy="61.3" r="0.8" fill="#404040" opacity="0.5"/>
<circle cx="32.3" cy="17.3" r="0.5" fill="#404040" opacity="0.5"/>
<circle cx="2.0" cy="30.0" r="0.7" fill="#404040" opacity="0.5"/>
<circle cx="27.6" cy="57.6" r="0.8" fill="#404040" opacity="0.5"/>
<circle cx="40.7" cy="15.3" r="0.5" fill="#404040" opacity="0.5"/>
<circle cx="23.6" cy="8.8" r="0.8" fill="#404040" opacity="0.5"/>
<circle cx="72.5" cy="43.6" r="0.6" fill="#404040" opacity="0.5"/>
<circle cx="64.9" cy="51.5" r="0.9" fill="#404040" opacity="0.5"/>
<circle cx="65.8" cy="49.3" r="0.9" fill="#404040" opacity="0.5"/>
<circle cx="25.7" cy="63.4" r="1.0" fill="#404040" opacity="0.5"/>
<circle cx="11.7" cy="48.7" r="0.9" fill="#404040" opacity="0.5"/>
<circle cx="33.5" cy="34.3" r="0.7" fill="#404040" opacity="0.5"/>
<circle cx="67.1" cy="32.4" r="0.9" fill="#404040" opacity="0.5"/>
<circle cx="25.7" cy="57.0" r="0.9" fill="#404040" opacity="0.5"/>
<circle cx="33.5" cy="36.7" r="1.0" fill="#404040" opacity="0.5"/>
<circle cx="52.5" cy="31.4" r="0.6" fill="#404040" opacity="0.5"/>
<circle cx="23.6" cy="45.2" r="0.6" fill="#404040" opacity="0.5"/>
<circle cx="65.9" cy="17.3" r="1.0" fill="#404040" opacity="0.5"/>
<circle cx="22.5" cy="61.8" r="0.9" fill="#404040" opacity="0.5"/>
<circle cx="36.6" cy="33.4" r="0.8" fill="#404040" opacity="0.5"/>
<circle cx="42.7" cy="20.1" r="0.6" fill="#404040" opacity="0.5"/>
<circle cx="37.2" cy="60.3" r="0.8" fill="#404040" opacity="0.5"/>
<circle cx="5.5" cy="53.0" r="0.9" fill="#404040" opacity="0.5"/>
<circle cx="65.9" cy="12.4" r="0.9" fill="#404040" opacity="0.5"/>
<circle cx="4.3" cy="42.2" r="0.6" fill="#404040" opacity="0.5"/>
<circle cx="16.5" cy="56.6" r="0.6" fill="#404040" opacity="0.5"/>
<circle cx="37.9" cy="55.2" r="0.6" fill="#404040" opacity="0.5"/>
<circle cx="15.3" cy="56.9" r="0.7" fill="#404040" opacity="0.5"/>
<circle cx="52.1" cy="2.1" r="0.7" fill="#404040" opacity="0.5"/>
<circle cx="12.5" cy="43.5" r="0.5" fill="#404040" opacity="0.5"/>
<circle cx="69.3" cy="1.6" r="0.9" fill="#404040" opacity="0.5"/>
<circle cx="1.5" cy="16.5" r="0.9" fill="#404040" opacity="0.5"/>
<circle cx="11.4" cy="11.9" r="0.8" fill="#404040" opacity="0.5"/>
<circle cx="28.0" cy="2.8" r="1.0" fill="#404040" opacity="0.5"/>
<circle cx="11.0" cy="2.3" r="0.7" fill="#404040" opacity="0.5"/>
<circle cx="44.7" cy="48.0" r="0.6" fill="#404040" opacity="0.5"/>
<circle cx="24.5" cy="2.0" r="0.7" fill="#404040" opacity="0.5"/>
<circle cx="55.6" cy="47.8" r="1.0" fill="#404040" opacity="0.5"/>
<circle cx="54.9" cy="55.7" r="0.9" fill="#404040" opacity="0.5"/>
<circle cx="34.3" cy="14.6" r="0.8" fill="#404040" opacity="0.5"/>
<circle cx="23.0" cy="6.6" r="0.7" fill="#404040" opacity="0.5"/>
<circle cx="63.5" cy="8.2" r="0.8" fill="#404040" opacity="0.5"/>
<circle cx="28.5" cy="33.3" r="0.6" fill="#404040" opacity="0.5"/>
<circle cx="69.7" cy="16.7" r="0.8" fill="#404040" opacity="0.5"/>
<circle cx="30.5" cy="1.2" r="0.8" fill="#404040" opacity="0.5"/>
<rect x="0.4" y="0.4" width="71.8" height="63.8" fill="none" stroke="#2a2a2a" stroke-width="0.8"/>
</svg>
<text x="154.10" y="194.00" font-size="10.1" text-anchor="start" font-weight="bold" font-style="normal" fill="#fff" stroke="#fff" stroke-width="0.35">CFU-E</text>
<svg x="233.3" y="181.6" width="73.0" height="64.6" viewBox="0 0 73.0 64.6">
<defs><filter id="bl3" x="-20%" y="-20%" width="140%" height="140%"><feGaussianBlur stdDeviation="0.9"/></filter><filter id="bb3" x="-50%" y="-50%" width="200%" height="200%"><feGaussianBlur stdDeviation="2.2"/></filter></defs>
<rect width="73.0" height="64.6" fill="#3b3b3b"/>
<g filter="url(#bb3)">
<ellipse cx="62.0" cy="18.0" rx="14.0" ry="18.0" fill="#474747" opacity="0.80" transform="rotate(0 62.0 18.0)"/>
<ellipse cx="62.0" cy="55.0" rx="12.0" ry="9.0" fill="#434343" opacity="0.70" transform="rotate(0 62.0 55.0)"/>
<ellipse cx="8.0" cy="8.0" rx="16.0" ry="12.0" fill="#272727" opacity="0.90" transform="rotate(0 8.0 8.0)"/>
<ellipse cx="6.0" cy="40.0" rx="6.0" ry="18.0" fill="#2c2c2c" opacity="0.60" transform="rotate(0 6.0 40.0)"/>
<ellipse cx="37.0" cy="41.0" rx="15.0" ry="14.0" fill="#1c1c1c" opacity="0.85" transform="rotate(20 37.0 41.0)"/>
<ellipse cx="27.0" cy="30.0" rx="10.0" ry="7.0" fill="#262626" opacity="0.60" transform="rotate(0 27.0 30.0)"/>
<ellipse cx="36.0" cy="45.0" rx="7.0" ry="8.0" fill="#111" opacity="0.80" transform="rotate(0 36.0 45.0)"/>
<ellipse cx="64.0" cy="38.0" rx="5.5" ry="4.5" fill="#151515" opacity="0.95" transform="rotate(0 64.0 38.0)"/>
</g>
<g filter="url(#bl3)">
<circle cx="17.4" cy="35.2" r="1.4" fill="#505050" opacity="0.44"/>
<circle cx="4.8" cy="0.9" r="2.0" fill="#505050" opacity="0.42"/>
<circle cx="14.0" cy="46.3" r="1.6" fill="#505050" opacity="0.37"/>
<circle cx="62.9" cy="15.0" r="1.2" fill="#505050" opacity="0.47"/>
<circle cx="49.0" cy="4.1" r="1.9" fill="#1e1e1e" opacity="0.34"/>
<circle cx="2.3" cy="55.9" r="1.6" fill="#505050" opacity="0.46"/>
<circle cx="67.2" cy="25.5" r="2.0" fill="#505050" opacity="0.54"/>
<circle cx="9.8" cy="23.6" r="1.0" fill="#505050" opacity="0.32"/>
<circle cx="70.5" cy="28.2" r="1.8" fill="#505050" opacity="0.38"/>
<circle cx="60.8" cy="37.1" r="1.6" fill="#505050" opacity="0.43"/>
<circle cx="66.0" cy="44.1" r="2.1" fill="#505050" opacity="0.55"/>
<circle cx="49.0" cy="10.5" r="2.0" fill="#1e1e1e" opacity="0.46"/>
<circle cx="15.4" cy="53.7" r="1.7" fill="#505050" opacity="0.29"/>
<circle cx="35.2" cy="41.3" r="1.6" fill="#505050" opacity="0.49"/>
<circle cx="30.0" cy="9.7" r="1.4" fill="#505050" opacity="0.51"/>
<circle cx="3.2" cy="39.7" r="1.1" fill="#505050" opacity="0.42"/>
<circle cx="67.3" cy="18.0" r="1.3" fill="#1e1e1e" opacity="0.34"/>
<circle cx="5.6" cy="38.7" r="1.0" fill="#1e1e1e" opacity="0.54"/>
<circle cx="21.3" cy="17.0" r="1.8" fill="#505050" opacity="0.34"/>
<circle cx="70.0" cy="57.9" r="1.5" fill="#505050" opacity="0.51"/>
<circle cx="28.2" cy="56.0" r="1.8" fill="#1e1e1e" opacity="0.44"/>
<circle cx="68.7" cy="32.8" r="1.5" fill="#1e1e1e" opacity="0.53"/>
<circle cx="31.9" cy="16.7" r="1.4" fill="#505050" opacity="0.25"/>
<circle cx="30.3" cy="37.5" r="1.0" fill="#1e1e1e" opacity="0.27"/>
<circle cx="45.8" cy="30.1" r="1.8" fill="#505050" opacity="0.43"/>
<circle cx="20.4" cy="31.6" r="1.7" fill="#1e1e1e" opacity="0.54"/>
<circle cx="18.3" cy="29.5" r="1.7" fill="#505050" opacity="0.30"/>
<circle cx="13.5" cy="49.0" r="2.0" fill="#505050" opacity="0.34"/>
<circle cx="27.5" cy="49.9" r="1.0" fill="#1e1e1e" opacity="0.34"/>
<circle cx="16.2" cy="51.9" r="1.3" fill="#1e1e1e" opacity="0.45"/>
<circle cx="47.4" cy="6.3" r="1.7" fill="#505050" opacity="0.45"/>
<circle cx="16.4" cy="52.3" r="2.2" fill="#1e1e1e" opacity="0.35"/>
<circle cx="47.5" cy="57.2" r="1.5" fill="#1e1e1e" opacity="0.49"/>
<circle cx="2.5" cy="61.9" r="1.4" fill="#1e1e1e" opacity="0.51"/>
<circle cx="24.8" cy="53.5" r="1.1" fill="#505050" opacity="0.43"/>
<circle cx="30.8" cy="33.5" r="2.0" fill="#505050" opacity="0.35"/>
<circle cx="30.4" cy="27.1" r="1.5" fill="#505050" opacity="0.30"/>
<circle cx="0.3" cy="60.9" r="2.1" fill="#505050" opacity="0.42"/>
<circle cx="72.0" cy="46.3" r="1.0" fill="#505050" opacity="0.50"/>
<circle cx="48.4" cy="33.5" r="1.3" fill="#505050" opacity="0.52"/>
<circle cx="62.9" cy="55.4" r="2.2" fill="#1e1e1e" opacity="0.49"/>
<circle cx="3.3" cy="58.4" r="1.8" fill="#1e1e1e" opacity="0.52"/>
<circle cx="65.7" cy="37.3" r="1.0" fill="#1e1e1e" opacity="0.30"/>
<circle cx="21.9" cy="42.8" r="1.6" fill="#505050" opacity="0.27"/>
<circle cx="66.7" cy="7.3" r="1.2" fill="#505050" opacity="0.49"/>
<circle cx="4.5" cy="14.3" r="1.1" fill="#1e1e1e" opacity="0.30"/>
<circle cx="57.8" cy="59.5" r="2.0" fill="#1e1e1e" opacity="0.40"/>
<circle cx="41.7" cy="25.9" r="1.9" fill="#1e1e1e" opacity="0.33"/>
<circle cx="38.5" cy="27.3" r="1.6" fill="#1e1e1e" opacity="0.51"/>
<circle cx="56.6" cy="3.0" r="1.1" fill="#505050" opacity="0.54"/>
<circle cx="62.4" cy="5.6" r="1.6" fill="#505050" opacity="0.30"/>
<circle cx="5.2" cy="24.9" r="1.5" fill="#505050" opacity="0.36"/>
<circle cx="13.9" cy="21.2" r="1.1" fill="#1e1e1e" opacity="0.46"/>
<circle cx="27.8" cy="5.2" r="1.2" fill="#505050" opacity="0.39"/>
<circle cx="47.5" cy="35.0" r="1.8" fill="#1e1e1e" opacity="0.44"/>
<circle cx="31.5" cy="24.1" r="1.6" fill="#505050" opacity="0.38"/>
<circle cx="50.7" cy="29.8" r="1.3" fill="#505050" opacity="0.46"/>
<circle cx="5.2" cy="27.4" r="1.5" fill="#1e1e1e" opacity="0.53"/>
<circle cx="27.3" cy="58.0" r="1.9" fill="#505050" opacity="0.29"/>
<circle cx="50.4" cy="60.7" r="1.9" fill="#505050" opacity="0.45"/>
<circle cx="53.6" cy="36.4" r="1.1" fill="#1e1e1e" opacity="0.39"/>
<circle cx="17.2" cy="25.1" r="1.6" fill="#1e1e1e" opacity="0.45"/>
<circle cx="27.4" cy="52.9" r="1.4" fill="#1e1e1e" opacity="0.26"/>
<circle cx="8.4" cy="31.1" r="1.8" fill="#505050" opacity="0.42"/>
<circle cx="58.3" cy="2.3" r="1.9" fill="#1e1e1e" opacity="0.28"/>
<circle cx="54.7" cy="60.4" r="1.1" fill="#505050" opacity="0.51"/>
<circle cx="13.2" cy="5.0" r="2.2" fill="#1e1e1e" opacity="0.39"/>
<circle cx="51.1" cy="60.9" r="1.3" fill="#505050" opacity="0.53"/>
<circle cx="40.6" cy="62.4" r="1.5" fill="#1e1e1e" opacity="0.54"/>
<circle cx="30.1" cy="48.3" r="1.2" fill="#505050" opacity="0.30"/>
<circle cx="29.3" cy="57.3" r="1.2" fill="#505050" opacity="0.47"/>
<circle cx="66.9" cy="33.4" r="1.5" fill="#1e1e1e" opacity="0.29"/>
<circle cx="54.9" cy="9.5" r="1.6" fill="#1e1e1e" opacity="0.51"/>
<circle cx="39.3" cy="50.4" r="1.8" fill="#505050" opacity="0.43"/>
<circle cx="42.7" cy="63.6" r="2.1" fill="#505050" opacity="0.26"/>
<circle cx="35.0" cy="24.7" r="1.2" fill="#505050" opacity="0.32"/>
<circle cx="35.2" cy="55.8" r="1.5" fill="#505050" opacity="0.46"/>
<circle cx="15.0" cy="37.5" r="2.1" fill="#1e1e1e" opacity="0.39"/>
<circle cx="52.6" cy="55.3" r="1.5" fill="#1e1e1e" opacity="0.39"/>
<circle cx="16.8" cy="15.2" r="1.9" fill="#1e1e1e" opacity="0.54"/>
<circle cx="62.3" cy="15.6" r="1.2" fill="#505050" opacity="0.29"/>
<circle cx="45.4" cy="43.6" r="1.0" fill="#505050" opacity="0.30"/>
<circle cx="3.3" cy="11.8" r="1.1" fill="#1e1e1e" opacity="0.29"/>
<circle cx="19.3" cy="59.0" r="1.0" fill="#505050" opacity="0.42"/>
<circle cx="49.3" cy="0.4" r="1.4" fill="#505050" opacity="0.36"/>
<circle cx="5.7" cy="41.6" r="1.9" fill="#505050" opacity="0.37"/>
<circle cx="39.7" cy="7.7" r="1.3" fill="#505050" opacity="0.28"/>
<circle cx="64.8" cy="58.7" r="1.1" fill="#505050" opacity="0.45"/>
<circle cx="26.9" cy="29.1" r="1.8" fill="#505050" opacity="0.28"/>
<circle cx="68.9" cy="21.9" r="1.7" fill="#1e1e1e" opacity="0.45"/>
<circle cx="37.1" cy="3.8" r="1.4" fill="#1e1e1e" opacity="0.44"/>
<circle cx="53.3" cy="9.7" r="1.4" fill="#505050" opacity="0.29"/>
<circle cx="68.0" cy="9.1" r="1.4" fill="#505050" opacity="0.42"/>
<circle cx="47.3" cy="29.6" r="1.4" fill="#1e1e1e" opacity="0.46"/>
<circle cx="7.8" cy="11.7" r="1.7" fill="#505050" opacity="0.36"/>
<circle cx="19.4" cy="24.8" r="2.0" fill="#1e1e1e" opacity="0.39"/>
<circle cx="19.8" cy="44.9" r="1.6" fill="#505050" opacity="0.53"/>
<circle cx="32.7" cy="52.3" r="1.1" fill="#505050" opacity="0.50"/>
<circle cx="8.2" cy="17.5" r="1.1" fill="#1e1e1e" opacity="0.42"/>
<circle cx="66.4" cy="7.2" r="1.8" fill="#505050" opacity="0.45"/>
<circle cx="28.6" cy="63.5" r="1.2" fill="#1e1e1e" opacity="0.51"/>
<circle cx="58.3" cy="35.2" r="1.2" fill="#1e1e1e" opacity="0.31"/>
<circle cx="18.3" cy="50.5" r="1.0" fill="#505050" opacity="0.52"/>
<circle cx="69.3" cy="24.8" r="1.7" fill="#505050" opacity="0.44"/>
<circle cx="71.3" cy="44.4" r="1.4" fill="#505050" opacity="0.26"/>
<circle cx="13.9" cy="41.0" r="1.1" fill="#1e1e1e" opacity="0.40"/>
<circle cx="38.2" cy="29.8" r="1.2" fill="#1e1e1e" opacity="0.26"/>
<circle cx="36.5" cy="41.7" r="1.5" fill="#505050" opacity="0.54"/>
<circle cx="65.1" cy="8.8" r="2.0" fill="#1e1e1e" opacity="0.26"/>
<circle cx="45.1" cy="32.7" r="1.6" fill="#1e1e1e" opacity="0.53"/>
<circle cx="23.6" cy="56.2" r="1.8" fill="#1e1e1e" opacity="0.27"/>
<circle cx="61.3" cy="50.1" r="1.0" fill="#1e1e1e" opacity="0.47"/>
<circle cx="25.1" cy="52.1" r="2.1" fill="#1e1e1e" opacity="0.38"/>
<circle cx="55.3" cy="31.3" r="1.1" fill="#1e1e1e" opacity="0.37"/>
<circle cx="61.7" cy="45.6" r="1.5" fill="#505050" opacity="0.46"/>
<circle cx="39.2" cy="27.3" r="1.8" fill="#505050" opacity="0.26"/>
<circle cx="33.4" cy="44.7" r="1.5" fill="#505050" opacity="0.52"/>
<circle cx="52.5" cy="23.7" r="1.4" fill="#505050" opacity="0.43"/>
<circle cx="16.3" cy="0.2" r="1.3" fill="#505050" opacity="0.29"/>
<circle cx="33.6" cy="12.6" r="1.3" fill="#1e1e1e" opacity="0.43"/>
<circle cx="36.8" cy="41.1" r="1.2" fill="#1e1e1e" opacity="0.38"/>
<circle cx="13.5" cy="54.4" r="1.5" fill="#505050" opacity="0.37"/>
<circle cx="51.4" cy="3.3" r="1.5" fill="#505050" opacity="0.40"/>
<circle cx="66.4" cy="57.0" r="1.3" fill="#505050" opacity="0.39"/>
<circle cx="12.0" cy="40.2" r="1.4" fill="#1e1e1e" opacity="0.43"/>
<circle cx="58.9" cy="18.8" r="2.2" fill="#505050" opacity="0.49"/>
<circle cx="70.2" cy="31.6" r="1.7" fill="#1e1e1e" opacity="0.49"/>
<circle cx="45.9" cy="22.3" r="1.1" fill="#505050" opacity="0.54"/>
<circle cx="43.2" cy="0.2" r="1.0" fill="#1e1e1e" opacity="0.26"/>
<circle cx="36.7" cy="31.1" r="1.2" fill="#505050" opacity="0.31"/>
<circle cx="46.1" cy="40.5" r="2.0" fill="#111" opacity="0.58"/>
<circle cx="38.2" cy="41.2" r="1.5" fill="#111" opacity="0.48"/>
<circle cx="39.6" cy="40.9" r="1.5" fill="#111" opacity="0.55"/>
<circle cx="42.7" cy="47.2" r="1.5" fill="#111" opacity="0.50"/>
<circle cx="41.0" cy="39.8" r="1.9" fill="#111" opacity="0.52"/>
<circle cx="41.9" cy="33.3" r="2.1" fill="#111" opacity="0.41"/>
<circle cx="30.4" cy="44.9" r="2.0" fill="#111" opacity="0.44"/>
<circle cx="35.3" cy="46.8" r="1.9" fill="#111" opacity="0.48"/>
<circle cx="33.8" cy="34.3" r="1.7" fill="#111" opacity="0.35"/>
<circle cx="35.5" cy="40.3" r="1.7" fill="#111" opacity="0.53"/>
<circle cx="34.2" cy="38.8" r="1.4" fill="#111" opacity="0.55"/>
<circle cx="24.4" cy="29.2" r="2.1" fill="#111" opacity="0.43"/>
<circle cx="47.7" cy="34.2" r="1.5" fill="#111" opacity="0.41"/>
<circle cx="44.2" cy="45.5" r="2.2" fill="#111" opacity="0.33"/>
<circle cx="32.1" cy="40.4" r="1.3" fill="#111" opacity="0.49"/>
<circle cx="36.2" cy="44.5" r="1.4" fill="#111" opacity="0.49"/>
<circle cx="34.8" cy="41.4" r="1.4" fill="#111" opacity="0.59"/>
<circle cx="38.2" cy="52.1" r="1.6" fill="#111" opacity="0.53"/>
<circle cx="23.4" cy="33.4" r="1.7" fill="#111" opacity="0.36"/>
<circle cx="37.6" cy="44.9" r="2.0" fill="#111" opacity="0.33"/>
<circle cx="59.2" cy="45.1" r="1.4" fill="#111" opacity="0.57"/>
<circle cx="44.6" cy="46.6" r="1.4" fill="#111" opacity="0.55"/>
<circle cx="26.3" cy="34.4" r="2.0" fill="#111" opacity="0.56"/>
<circle cx="29.1" cy="51.0" r="1.6" fill="#111" opacity="0.33"/>
<circle cx="42.2" cy="32.8" r="2.0" fill="#111" opacity="0.36"/>
<circle cx="26.2" cy="39.8" r="1.9" fill="#111" opacity="0.32"/>
<circle cx="30.1" cy="49.6" r="1.3" fill="#111" opacity="0.47"/>
<circle cx="35.1" cy="33.6" r="1.8" fill="#111" opacity="0.48"/>
<circle cx="37.9" cy="49.2" r="2.2" fill="#111" opacity="0.40"/>
<circle cx="32.6" cy="43.4" r="1.4" fill="#111" opacity="0.35"/>
<circle cx="49.1" cy="36.6" r="2.1" fill="#111" opacity="0.60"/>
<circle cx="20.1" cy="30.0" r="1.7" fill="#111" opacity="0.43"/>
<circle cx="54.4" cy="36.5" r="2.1" fill="#111" opacity="0.45"/>
<circle cx="37.4" cy="33.9" r="2.2" fill="#111" opacity="0.58"/>
<circle cx="30.5" cy="60.0" r="1.4" fill="#111" opacity="0.33"/>
<circle cx="34.7" cy="35.4" r="1.7" fill="#111" opacity="0.49"/>
<circle cx="50.4" cy="45.3" r="1.5" fill="#111" opacity="0.43"/>
<circle cx="27.7" cy="52.9" r="1.9" fill="#111" opacity="0.39"/>
<circle cx="42.0" cy="46.1" r="1.6" fill="#111" opacity="0.32"/>
<circle cx="44.7" cy="53.1" r="1.9" fill="#111" opacity="0.59"/>
<circle cx="54.2" cy="39.9" r="1.6" fill="#111" opacity="0.35"/>
<circle cx="32.2" cy="50.3" r="1.7" fill="#111" opacity="0.46"/>
<circle cx="24.8" cy="54.1" r="1.5" fill="#111" opacity="0.44"/>
<circle cx="48.4" cy="32.5" r="1.5" fill="#111" opacity="0.37"/>
<circle cx="36.4" cy="40.9" r="1.3" fill="#111" opacity="0.46"/>
<circle cx="30.7" cy="40.9" r="1.3" fill="#111" opacity="0.36"/>
<circle cx="37.3" cy="33.1" r="2.2" fill="#111" opacity="0.54"/>
<circle cx="38.4" cy="41.7" r="1.4" fill="#111" opacity="0.30"/>
<circle cx="28.5" cy="45.0" r="1.3" fill="#111" opacity="0.46"/>
<circle cx="42.5" cy="45.8" r="1.4" fill="#111" opacity="0.54"/>
</g>
<rect x="0.4" y="0.4" width="72.2" height="63.8" fill="none" stroke="#2a2a2a" stroke-width="0.8"/>
</svg>
<text x="236.10" y="194.00" font-size="10.1" text-anchor="start" font-weight="bold" font-style="normal" fill="#fff" stroke="#fff" stroke-width="0.35">CFU-GEMM</text>
<svg x="315.2" y="181.6" width="72.7" height="64.6" viewBox="0 0 72.7 64.6">
<defs><filter id="bl4" x="-20%" y="-20%" width="140%" height="140%"><feGaussianBlur stdDeviation="0.9"/></filter><filter id="bb4" x="-50%" y="-50%" width="200%" height="200%"><feGaussianBlur stdDeviation="2.2"/></filter></defs>
<rect width="72.7" height="64.6" fill="#1c1c1c"/>
<g filter="url(#bb4)">
<ellipse cx="40.0" cy="32.0" rx="22.0" ry="22.0" fill="#2a2a2a" opacity="0.70" transform="rotate(0 40.0 32.0)"/>
</g>
<circle cx="40.6" cy="40.1" r="0.8" fill="#464646" opacity="0.48"/>
<circle cx="54.8" cy="39.2" r="1.1" fill="#464646" opacity="0.80"/>
<circle cx="41.1" cy="20.5" r="0.9" fill="#464646" opacity="0.54"/>
<circle cx="43.5" cy="39.3" r="0.7" fill="#464646" opacity="0.86"/>
<circle cx="53.8" cy="5.5" r="1.0" fill="#464646" opacity="0.50"/>
<circle cx="31.7" cy="54.2" r="1.0" fill="#464646" opacity="0.83"/>
<circle cx="45.0" cy="27.4" r="0.9" fill="#464646" opacity="0.74"/>
<circle cx="30.0" cy="31.9" r="0.8" fill="#464646" opacity="0.44"/>
<circle cx="69.4" cy="18.9" r="0.9" fill="#464646" opacity="0.55"/>
<circle cx="57.5" cy="20.4" r="1.0" fill="#464646" opacity="0.82"/>
<circle cx="23.5" cy="31.4" r="0.9" fill="#464646" opacity="0.62"/>
<circle cx="47.2" cy="44.5" r="1.0" fill="#464646" opacity="0.42"/>
<circle cx="61.5" cy="39.1" r="0.7" fill="#464646" opacity="0.67"/>
<circle cx="25.6" cy="35.1" r="1.1" fill="#464646" opacity="0.50"/>
<circle cx="30.8" cy="38.2" r="0.9" fill="#464646" opacity="0.54"/>
<circle cx="23.6" cy="54.2" r="0.8" fill="#464646" opacity="0.68"/>
<circle cx="46.1" cy="27.9" r="0.6" fill="#464646" opacity="0.51"/>
<circle cx="42.1" cy="9.2" r="0.7" fill="#464646" opacity="0.57"/>
<circle cx="47.8" cy="49.0" r="0.6" fill="#464646" opacity="0.75"/>
<circle cx="71.6" cy="6.9" r="1.0" fill="#464646" opacity="0.88"/>
<circle cx="53.1" cy="33.9" r="1.1" fill="#464646" opacity="0.79"/>
<circle cx="7.6" cy="53.8" r="0.9" fill="#464646" opacity="0.81"/>
<circle cx="37.2" cy="42.8" r="0.8" fill="#464646" opacity="0.47"/>
<circle cx="9.9" cy="61.4" r="0.8" fill="#464646" opacity="0.40"/>
<circle cx="49.4" cy="35.1" r="1.0" fill="#464646" opacity="0.58"/>
<circle cx="38.2" cy="39.6" r="1.1" fill="#464646" opacity="0.61"/>
<circle cx="41.4" cy="38.0" r="0.6" fill="#464646" opacity="0.48"/>
<circle cx="35.9" cy="23.7" r="0.6" fill="#464646" opacity="0.65"/>
<circle cx="40.3" cy="90.7" r="0.7" fill="#464646" opacity="0.66"/>
<circle cx="42.4" cy="15.3" r="1.1" fill="#464646" opacity="0.64"/>
<circle cx="40.8" cy="49.5" r="0.6" fill="#464646" opacity="0.61"/>
<circle cx="40.3" cy="67.5" r="1.0" fill="#464646" opacity="0.65"/>
<circle cx="52.0" cy="34.8" r="0.7" fill="#464646" opacity="0.50"/>
<circle cx="43.7" cy="66.0" r="0.7" fill="#464646" opacity="0.43"/>
<circle cx="58.6" cy="22.8" r="1.1" fill="#464646" opacity="0.60"/>
<circle cx="58.9" cy="18.0" r="1.0" fill="#464646" opacity="0.77"/>
<circle cx="32.9" cy="32.6" r="0.7" fill="#464646" opacity="0.84"/>
<circle cx="69.4" cy="9.8" r="0.8" fill="#464646" opacity="0.73"/>
<circle cx="47.0" cy="9.4" r="1.0" fill="#464646" opacity="0.66"/>
<circle cx="26.3" cy="11.2" r="0.7" fill="#464646" opacity="0.86"/>
<circle cx="46.0" cy="30.5" r="1.1" fill="#464646" opacity="0.88"/>
<circle cx="37.6" cy="27.9" r="1.0" fill="#464646" opacity="0.46"/>
<circle cx="63.2" cy="27.4" r="0.6" fill="#464646" opacity="0.48"/>
<circle cx="26.3" cy="15.9" r="1.0" fill="#464646" opacity="0.86"/>
<circle cx="40.2" cy="33.6" r="1.1" fill="#464646" opacity="0.41"/>
<circle cx="45.6" cy="26.5" r="1.0" fill="#464646" opacity="0.79"/>
<circle cx="54.5" cy="17.6" r="1.0" fill="#464646" opacity="0.50"/>
<circle cx="33.2" cy="19.0" r="1.0" fill="#464646" opacity="0.79"/>
<circle cx="20.7" cy="36.0" r="0.6" fill="#464646" opacity="0.42"/>
<circle cx="24.6" cy="21.4" r="1.0" fill="#464646" opacity="0.70"/>
<circle cx="49.8" cy="44.5" r="1.0" fill="#464646" opacity="0.66"/>
<circle cx="70.4" cy="34.4" r="1.0" fill="#464646" opacity="0.44"/>
<circle cx="24.9" cy="27.9" r="1.0" fill="#464646" opacity="0.56"/>
<circle cx="41.9" cy="51.6" r="1.1" fill="#464646" opacity="0.45"/>
<circle cx="56.7" cy="47.7" r="1.0" fill="#464646" opacity="0.66"/>
<circle cx="11.1" cy="45.7" r="1.0" fill="#464646" opacity="0.43"/>
<circle cx="47.7" cy="24.8" r="0.8" fill="#464646" opacity="0.82"/>
<circle cx="14.7" cy="46.4" r="0.7" fill="#464646" opacity="0.84"/>
<circle cx="44.0" cy="40.8" r="0.8" fill="#464646" opacity="0.57"/>
<circle cx="6.5" cy="22.8" r="1.0" fill="#464646" opacity="0.40"/>
<circle cx="32.4" cy="51.8" r="0.8" fill="#464646" opacity="0.76"/>
<circle cx="33.7" cy="33.0" r="0.7" fill="#464646" opacity="0.82"/>
<circle cx="23.0" cy="54.7" r="1.1" fill="#464646" opacity="0.71"/>
<circle cx="30.2" cy="11.7" r="0.8" fill="#464646" opacity="0.86"/>
<circle cx="5.5" cy="39.9" r="0.8" fill="#464646" opacity="0.83"/>
<circle cx="45.0" cy="9.8" r="0.8" fill="#464646" opacity="0.47"/>
<circle cx="42.0" cy="16.5" r="0.9" fill="#464646" opacity="0.47"/>
<circle cx="47.7" cy="36.9" r="1.0" fill="#464646" opacity="0.49"/>
<circle cx="52.6" cy="22.9" r="0.9" fill="#464646" opacity="0.58"/>
<circle cx="34.8" cy="27.2" r="0.8" fill="#464646" opacity="0.87"/>
<circle cx="50.0" cy="54.4" r="0.8" fill="#464646" opacity="0.55"/>
<circle cx="43.2" cy="32.8" r="1.1" fill="#464646" opacity="0.81"/>
<circle cx="49.1" cy="3.4" r="1.1" fill="#464646" opacity="0.48"/>
<circle cx="23.8" cy="22.4" r="0.9" fill="#464646" opacity="0.87"/>
<circle cx="42.7" cy="-11.8" r="0.7" fill="#464646" opacity="0.73"/>
<circle cx="28.0" cy="7.5" r="0.9" fill="#464646" opacity="0.82"/>
<circle cx="28.0" cy="68.7" r="0.8" fill="#464646" opacity="0.70"/>
<circle cx="59.9" cy="16.5" r="0.8" fill="#464646" opacity="0.52"/>
<circle cx="29.6" cy="53.2" r="1.1" fill="#464646" opacity="0.85"/>
<circle cx="26.9" cy="42.3" r="1.0" fill="#464646" opacity="0.54"/>
<circle cx="37.8" cy="33.7" r="0.7" fill="#464646" opacity="0.67"/>
<circle cx="32.3" cy="10.6" r="0.8" fill="#464646" opacity="0.88"/>
<circle cx="33.3" cy="25.5" r="0.6" fill="#464646" opacity="0.89"/>
<circle cx="75.8" cy="29.4" r="0.9" fill="#464646" opacity="0.56"/>
<circle cx="50.4" cy="39.3" r="0.7" fill="#464646" opacity="0.86"/>
<circle cx="61.6" cy="14.1" r="0.7" fill="#464646" opacity="0.52"/>
<circle cx="28.2" cy="71.2" r="0.7" fill="#464646" opacity="0.80"/>
<circle cx="31.5" cy="13.1" r="1.1" fill="#464646" opacity="0.53"/>
<circle cx="30.7" cy="30.8" r="0.6" fill="#464646" opacity="0.42"/>
<circle cx="36.7" cy="40.1" r="0.6" fill="#464646" opacity="0.90"/>
<circle cx="31.8" cy="66.5" r="1.0" fill="#464646" opacity="0.77"/>
<circle cx="17.8" cy="-2.0" r="1.0" fill="#464646" opacity="0.76"/>
<circle cx="17.1" cy="22.8" r="1.0" fill="#464646" opacity="0.68"/>
<circle cx="30.7" cy="32.1" r="1.0" fill="#464646" opacity="0.64"/>
<circle cx="48.8" cy="36.5" r="1.0" fill="#464646" opacity="0.53"/>
<circle cx="21.2" cy="48.3" r="1.0" fill="#464646" opacity="0.56"/>
<circle cx="27.3" cy="43.8" r="0.6" fill="#464646" opacity="0.84"/>
<circle cx="80.3" cy="37.4" r="0.7" fill="#464646" opacity="0.48"/>
<circle cx="57.3" cy="6.8" r="0.7" fill="#464646" opacity="0.68"/>
<circle cx="14.8" cy="36.2" r="0.7" fill="#464646" opacity="0.81"/>
<circle cx="65.0" cy="31.7" r="1.1" fill="#464646" opacity="0.87"/>
<circle cx="17.4" cy="54.7" r="1.0" fill="#464646" opacity="0.69"/>
<circle cx="57.4" cy="46.9" r="1.1" fill="#464646" opacity="0.55"/>
<circle cx="19.4" cy="3.7" r="0.9" fill="#464646" opacity="0.42"/>
<circle cx="31.7" cy="22.8" r="1.0" fill="#464646" opacity="0.73"/>
<circle cx="28.0" cy="65.7" r="0.9" fill="#464646" opacity="0.57"/>
<circle cx="57.0" cy="1.7" r="1.0" fill="#464646" opacity="0.84"/>
<circle cx="26.5" cy="10.5" r="0.9" fill="#464646" opacity="0.66"/>
<circle cx="54.9" cy="31.1" r="0.6" fill="#464646" opacity="0.76"/>
<circle cx="19.9" cy="32.6" r="0.9" fill="#464646" opacity="0.52"/>
<circle cx="41.9" cy="38.5" r="1.0" fill="#464646" opacity="0.85"/>
<circle cx="37.4" cy="24.4" r="1.1" fill="#464646" opacity="0.81"/>
<circle cx="39.3" cy="32.3" r="1.0" fill="#464646" opacity="0.71"/>
<circle cx="37.8" cy="30.1" r="1.0" fill="#464646" opacity="0.42"/>
<circle cx="31.1" cy="33.6" r="0.8" fill="#464646" opacity="0.85"/>
<circle cx="39.7" cy="1.4" r="0.7" fill="#464646" opacity="0.59"/>
<circle cx="36.7" cy="29.6" r="0.8" fill="#464646" opacity="0.89"/>
<circle cx="40.8" cy="-1.2" r="0.7" fill="#464646" opacity="0.75"/>
<circle cx="46.0" cy="6.8" r="0.8" fill="#464646" opacity="0.49"/>
<circle cx="73.2" cy="36.2" r="1.1" fill="#464646" opacity="0.54"/>
<circle cx="40.6" cy="15.1" r="0.9" fill="#464646" opacity="0.82"/>
<circle cx="30.4" cy="53.4" r="0.7" fill="#464646" opacity="0.66"/>
<circle cx="52.3" cy="34.8" r="0.7" fill="#464646" opacity="0.86"/>
<circle cx="58.1" cy="53.2" r="0.6" fill="#464646" opacity="0.89"/>
<circle cx="43.5" cy="38.7" r="0.7" fill="#464646" opacity="0.87"/>
<circle cx="23.5" cy="1.5" r="0.8" fill="#464646" opacity="0.46"/>
<circle cx="30.5" cy="47.9" r="1.1" fill="#464646" opacity="0.48"/>
<circle cx="41.1" cy="64.6" r="0.7" fill="#464646" opacity="0.89"/>
<circle cx="34.0" cy="53.1" r="0.9" fill="#464646" opacity="0.85"/>
<circle cx="67.5" cy="47.2" r="0.7" fill="#464646" opacity="0.76"/>
<circle cx="66.9" cy="37.2" r="0.7" fill="#464646" opacity="0.50"/>
<circle cx="53.8" cy="35.5" r="0.8" fill="#464646" opacity="0.89"/>
<circle cx="28.1" cy="22.4" r="1.1" fill="#464646" opacity="0.49"/>
<circle cx="48.7" cy="73.3" r="1.1" fill="#464646" opacity="0.74"/>
<circle cx="45.4" cy="31.5" r="1.1" fill="#464646" opacity="0.75"/>
<circle cx="24.8" cy="4.2" r="0.7" fill="#464646" opacity="0.50"/>
<circle cx="51.8" cy="46.9" r="0.9" fill="#464646" opacity="0.67"/>
<circle cx="22.9" cy="53.4" r="1.0" fill="#464646" opacity="0.78"/>
<circle cx="48.9" cy="34.6" r="0.7" fill="#464646" opacity="0.52"/>
<circle cx="30.6" cy="27.4" r="0.9" fill="#464646" opacity="0.57"/>
<circle cx="23.5" cy="52.2" r="1.1" fill="#464646" opacity="0.50"/>
<circle cx="13.8" cy="71.0" r="0.7" fill="#464646" opacity="0.41"/>
<circle cx="50.8" cy="61.6" r="1.0" fill="#464646" opacity="0.87"/>
<circle cx="35.3" cy="32.4" r="0.8" fill="#464646" opacity="0.76"/>
<circle cx="33.1" cy="38.0" r="0.8" fill="#464646" opacity="0.63"/>
<circle cx="29.2" cy="46.7" r="0.7" fill="#464646" opacity="0.41"/>
<circle cx="45.4" cy="5.6" r="0.8" fill="#464646" opacity="0.46"/>
<circle cx="34.2" cy="52.9" r="1.0" fill="#464646" opacity="0.64"/>
<circle cx="59.3" cy="28.9" r="0.7" fill="#464646" opacity="0.71"/>
<circle cx="22.5" cy="18.9" r="1.0" fill="#464646" opacity="0.41"/>
<circle cx="13.5" cy="43.9" r="0.7" fill="#464646" opacity="0.42"/>
<circle cx="45.3" cy="44.9" r="0.8" fill="#464646" opacity="0.56"/>
<circle cx="33.5" cy="24.6" r="0.8" fill="#464646" opacity="0.74"/>
<circle cx="1.2" cy="20.6" r="1.1" fill="#464646" opacity="0.53"/>
<circle cx="29.9" cy="50.3" r="0.9" fill="#464646" opacity="0.58"/>
<circle cx="46.9" cy="23.8" r="0.8" fill="#464646" opacity="0.46"/>
<circle cx="56.0" cy="17.1" r="1.1" fill="#464646" opacity="0.47"/>
<circle cx="34.8" cy="10.3" r="0.6" fill="#464646" opacity="0.81"/>
<circle cx="44.6" cy="27.4" r="1.1" fill="#464646" opacity="0.79"/>
<circle cx="24.1" cy="19.4" r="0.7" fill="#464646" opacity="0.43"/>
<circle cx="8.3" cy="37.5" r="0.7" fill="#464646" opacity="0.64"/>
<circle cx="35.0" cy="57.5" r="1.1" fill="#464646" opacity="0.84"/>
<circle cx="36.1" cy="49.3" r="0.6" fill="#464646" opacity="0.66"/>
<circle cx="58.7" cy="6.5" r="0.6" fill="#464646" opacity="0.62"/>
<circle cx="54.7" cy="40.8" r="1.1" fill="#464646" opacity="0.54"/>
<circle cx="62.5" cy="-2.2" r="1.0" fill="#464646" opacity="0.50"/>
<circle cx="71.5" cy="13.6" r="1.1" fill="#464646" opacity="0.41"/>
<circle cx="53.3" cy="32.6" r="0.9" fill="#464646" opacity="0.61"/>
<circle cx="59.1" cy="45.5" r="0.9" fill="#464646" opacity="0.72"/>
<circle cx="19.8" cy="30.9" r="0.9" fill="#464646" opacity="0.43"/>
<circle cx="32.0" cy="35.8" r="0.7" fill="#464646" opacity="0.78"/>
<circle cx="33.4" cy="46.0" r="0.7" fill="#464646" opacity="0.69"/>
<circle cx="56.9" cy="48.6" r="0.6" fill="#464646" opacity="0.88"/>
<circle cx="55.1" cy="56.2" r="0.9" fill="#464646" opacity="0.61"/>
<circle cx="34.9" cy="47.2" r="1.0" fill="#464646" opacity="0.66"/>
<circle cx="28.2" cy="29.4" r="0.9" fill="#464646" opacity="0.49"/>
<circle cx="16.9" cy="35.0" r="0.9" fill="#464646" opacity="0.69"/>
<circle cx="30.5" cy="27.6" r="1.1" fill="#464646" opacity="0.74"/>
<circle cx="33.9" cy="-9.0" r="0.8" fill="#464646" opacity="0.57"/>
<circle cx="35.3" cy="46.1" r="0.8" fill="#464646" opacity="0.56"/>
<circle cx="44.7" cy="51.0" r="0.7" fill="#464646" opacity="0.58"/>
<circle cx="32.8" cy="19.8" r="1.0" fill="#464646" opacity="0.80"/>
<circle cx="25.6" cy="60.4" r="0.7" fill="#464646" opacity="0.45"/>
<circle cx="44.1" cy="32.2" r="0.6" fill="#464646" opacity="0.83"/>
<circle cx="63.3" cy="32.7" r="0.9" fill="#464646" opacity="0.51"/>
<circle cx="41.2" cy="76.2" r="0.8" fill="#464646" opacity="0.52"/>
<circle cx="15.8" cy="42.1" r="0.7" fill="#464646" opacity="0.44"/>
<circle cx="41.8" cy="25.0" r="0.6" fill="#464646" opacity="0.40"/>
<circle cx="57.0" cy="31.6" r="1.0" fill="#464646" opacity="0.68"/>
<circle cx="54.5" cy="29.9" r="0.8" fill="#464646" opacity="0.74"/>
<circle cx="55.2" cy="32.4" r="1.0" fill="#464646" opacity="0.69"/>
<circle cx="2.5" cy="34.8" r="0.8" fill="#464646" opacity="0.77"/>
<circle cx="34.7" cy="36.8" r="0.8" fill="#464646" opacity="0.51"/>
<circle cx="52.9" cy="34.7" r="0.7" fill="#464646" opacity="0.63"/>
<circle cx="37.9" cy="4.1" r="1.0" fill="#464646" opacity="0.56"/>
<circle cx="23.7" cy="1.5" r="0.8" fill="#464646" opacity="0.86"/>
<circle cx="68.7" cy="55.1" r="1.0" fill="#464646" opacity="0.89"/>
<circle cx="52.2" cy="9.2" r="0.8" fill="#464646" opacity="0.76"/>
<circle cx="55.1" cy="17.1" r="0.9" fill="#464646" opacity="0.86"/>
<circle cx="36.9" cy="47.1" r="0.6" fill="#464646" opacity="0.84"/>
<circle cx="23.6" cy="14.1" r="0.7" fill="#464646" opacity="0.49"/>
<circle cx="7.5" cy="36.9" r="0.8" fill="#464646" opacity="0.61"/>
<circle cx="13.1" cy="48.3" r="0.7" fill="#464646" opacity="0.83"/>
<circle cx="64.7" cy="34.2" r="1.0" fill="#464646" opacity="0.63"/>
<circle cx="39.3" cy="18.7" r="0.7" fill="#464646" opacity="0.58"/>
<circle cx="37.6" cy="58.9" r="0.9" fill="#464646" opacity="0.73"/>
<circle cx="67.2" cy="27.9" r="1.0" fill="#464646" opacity="0.88"/>
<circle cx="63.7" cy="20.3" r="0.8" fill="#464646" opacity="0.65"/>
<circle cx="41.0" cy="2.8" r="1.0" fill="#464646" opacity="0.77"/>
<circle cx="34.0" cy="21.1" r="0.9" fill="#464646" opacity="0.49"/>
<circle cx="34.0" cy="24.0" r="0.6" fill="#464646" opacity="0.88"/>
<circle cx="49.3" cy="21.9" r="0.6" fill="#464646" opacity="0.81"/>
<circle cx="41.2" cy="22.6" r="1.0" fill="#464646" opacity="0.82"/>
<circle cx="28.6" cy="26.2" r="0.6" fill="#464646" opacity="0.43"/>
<circle cx="16.1" cy="42.0" r="0.9" fill="#464646" opacity="0.51"/>
<circle cx="41.7" cy="26.5" r="0.9" fill="#464646" opacity="0.49"/>
<circle cx="50.5" cy="32.7" r="1.0" fill="#464646" opacity="0.51"/>
<circle cx="58.3" cy="34.0" r="0.8" fill="#464646" opacity="0.69"/>
<circle cx="17.8" cy="20.0" r="1.1" fill="#464646" opacity="0.57"/>
<circle cx="34.7" cy="26.0" r="0.7" fill="#464646" opacity="0.45"/>
<circle cx="49.4" cy="20.7" r="1.0" fill="#464646" opacity="0.84"/>
<circle cx="31.8" cy="39.9" r="0.7" fill="#464646" opacity="0.64"/>
<circle cx="35.4" cy="36.5" r="1.0" fill="#464646" opacity="0.72"/>
<circle cx="61.4" cy="8.9" r="1.0" fill="#464646" opacity="0.81"/>
<circle cx="35.2" cy="15.3" r="1.0" fill="#464646" opacity="0.86"/>
<circle cx="47.0" cy="38.2" r="0.7" fill="#464646" opacity="0.63"/>
<circle cx="52.9" cy="16.8" r="1.0" fill="#464646" opacity="0.58"/>
<circle cx="28.9" cy="27.2" r="0.9" fill="#464646" opacity="0.54"/>
<circle cx="56.1" cy="33.1" r="0.9" fill="#464646" opacity="0.84"/>
<circle cx="31.7" cy="69.7" r="1.0" fill="#464646" opacity="0.48"/>
<circle cx="46.7" cy="-6.4" r="1.1" fill="#464646" opacity="0.75"/>
<circle cx="24.5" cy="45.7" r="0.9" fill="#464646" opacity="0.71"/>
<circle cx="52.4" cy="64.7" r="0.9" fill="#464646" opacity="0.44"/>
<circle cx="37.7" cy="38.8" r="0.8" fill="#464646" opacity="0.45"/>
<circle cx="27.3" cy="29.8" r="1.0" fill="#464646" opacity="0.78"/>
<circle cx="51.1" cy="60.7" r="0.9" fill="#464646" opacity="0.53"/>
<circle cx="41.5" cy="31.3" r="0.8" fill="#464646" opacity="0.70"/>
<circle cx="49.7" cy="49.0" r="1.0" fill="#464646" opacity="0.57"/>
<circle cx="37.3" cy="21.8" r="1.1" fill="#464646" opacity="0.88"/>
<circle cx="53.8" cy="56.9" r="0.8" fill="#464646" opacity="0.42"/>
<circle cx="46.3" cy="58.6" r="0.8" fill="#464646" opacity="0.66"/>
<circle cx="46.8" cy="39.7" r="0.8" fill="#464646" opacity="0.66"/>
<circle cx="47.5" cy="15.7" r="0.8" fill="#464646" opacity="0.86"/>
<circle cx="30.1" cy="6.1" r="1.0" fill="#464646" opacity="0.64"/>
<circle cx="39.5" cy="40.5" r="0.9" fill="#464646" opacity="0.77"/>
<circle cx="69.3" cy="10.6" r="0.9" fill="#464646" opacity="0.64"/>
<circle cx="46.6" cy="30.7" r="0.8" fill="#464646" opacity="0.67"/>
<circle cx="22.3" cy="18.5" r="0.7" fill="#464646" opacity="0.65"/>
<circle cx="47.1" cy="47.1" r="0.7" fill="#464646" opacity="0.56"/>
<circle cx="28.7" cy="20.2" r="0.7" fill="#464646" opacity="0.63"/>
<circle cx="33.5" cy="19.8" r="0.7" fill="#464646" opacity="0.62"/>
<circle cx="38.5" cy="28.0" r="0.9" fill="#464646" opacity="0.43"/>
<circle cx="48.0" cy="25.3" r="1.0" fill="#464646" opacity="0.42"/>
<circle cx="27.7" cy="32.8" r="1.0" fill="#464646" opacity="0.79"/>
<circle cx="43.6" cy="36.2" r="1.0" fill="#464646" opacity="0.61"/>
<circle cx="29.7" cy="43.4" r="0.8" fill="#464646" opacity="0.69"/>
<circle cx="33.6" cy="38.0" r="0.8" fill="#464646" opacity="0.89"/>
<circle cx="42.6" cy="5.7" r="1.1" fill="#464646" opacity="0.62"/>
<circle cx="21.6" cy="55.0" r="0.7" fill="#464646" opacity="0.78"/>
<circle cx="53.3" cy="51.1" r="0.9" fill="#464646" opacity="0.79"/>
<circle cx="62.0" cy="41.9" r="1.0" fill="#464646" opacity="0.42"/>
<circle cx="34.7" cy="19.9" r="1.0" fill="#464646" opacity="0.89"/>
<circle cx="56.3" cy="32.6" r="0.8" fill="#464646" opacity="0.89"/>
<circle cx="43.4" cy="30.4" r="0.7" fill="#464646" opacity="0.60"/>
<circle cx="49.4" cy="4.3" r="0.9" fill="#464646" opacity="0.86"/>
<circle cx="54.0" cy="1.2" r="0.9" fill="#464646" opacity="0.53"/>
<circle cx="37.5" cy="5.8" r="1.1" fill="#464646" opacity="0.49"/>
<circle cx="54.5" cy="34.4" r="0.7" fill="#464646" opacity="0.59"/>
<circle cx="60.4" cy="40.8" r="0.8" fill="#464646" opacity="0.53"/>
<circle cx="56.8" cy="45.4" r="0.6" fill="#464646" opacity="0.83"/>
<circle cx="34.2" cy="67.7" r="0.7" fill="#464646" opacity="0.59"/>
<circle cx="43.4" cy="12.2" r="0.8" fill="#464646" opacity="0.84"/>
<circle cx="56.0" cy="60.4" r="0.9" fill="#464646" opacity="0.54"/>
<circle cx="32.4" cy="43.3" r="0.9" fill="#464646" opacity="0.62"/>
<circle cx="17.0" cy="29.5" r="1.0" fill="#464646" opacity="0.75"/>
<circle cx="33.3" cy="56.1" r="0.9" fill="#464646" opacity="0.85"/>
<circle cx="25.1" cy="45.9" r="1.0" fill="#464646" opacity="0.57"/>
<circle cx="29.7" cy="53.1" r="0.8" fill="#464646" opacity="0.82"/>
<circle cx="33.5" cy="42.0" r="0.9" fill="#464646" opacity="0.70"/>
<circle cx="78.1" cy="29.9" r="0.8" fill="#464646" opacity="0.62"/>
<circle cx="29.0" cy="16.1" r="0.9" fill="#464646" opacity="0.60"/>
<circle cx="61.5" cy="5.0" r="1.0" fill="#464646" opacity="0.77"/>
<circle cx="49.4" cy="23.9" r="1.1" fill="#464646" opacity="0.50"/>
<circle cx="55.0" cy="44.0" r="0.7" fill="#464646" opacity="0.53"/>
<circle cx="32.8" cy="26.4" r="0.8" fill="#464646" opacity="0.58"/>
<circle cx="46.0" cy="29.9" r="0.9" fill="#464646" opacity="0.63"/>
<circle cx="47.7" cy="45.5" r="0.8" fill="#464646" opacity="0.58"/>
<circle cx="20.9" cy="24.8" r="0.8" fill="#464646" opacity="0.62"/>
<circle cx="25.7" cy="20.0" r="0.7" fill="#464646" opacity="0.73"/>
<circle cx="13.7" cy="50.1" r="0.7" fill="#464646" opacity="0.67"/>
<circle cx="33.0" cy="54.9" r="1.0" fill="#464646" opacity="0.72"/>
<circle cx="6.6" cy="15.4" r="0.7" fill="#464646" opacity="0.90"/>
<circle cx="19.0" cy="41.2" r="0.7" fill="#464646" opacity="0.42"/>
<circle cx="50.8" cy="50.0" r="0.7" fill="#464646" opacity="0.80"/>
<circle cx="53.3" cy="52.8" r="1.1" fill="#464646" opacity="0.75"/>
<circle cx="66.3" cy="17.7" r="1.0" fill="#464646" opacity="0.42"/>
<circle cx="26.5" cy="31.4" r="0.8" fill="#464646" opacity="0.76"/>
<circle cx="38.7" cy="21.0" r="0.7" fill="#464646" opacity="0.43"/>
<circle cx="38.0" cy="1.1" r="0.6" fill="#464646" opacity="0.47"/>
<circle cx="71.5" cy="71.2" r="0.6" fill="#464646" opacity="0.69"/>
<circle cx="47.0" cy="25.1" r="0.9" fill="#464646" opacity="0.57"/>
<circle cx="28.6" cy="17.7" r="0.7" fill="#464646" opacity="0.85"/>
<circle cx="-5.4" cy="32.2" r="0.9" fill="#464646" opacity="0.88"/>
<circle cx="36.9" cy="27.5" r="0.6" fill="#464646" opacity="0.90"/>
<circle cx="25.7" cy="6.6" r="1.0" fill="#464646" opacity="0.58"/>
<circle cx="33.6" cy="9.0" r="0.6" fill="#464646" opacity="0.67"/>
<circle cx="58.4" cy="23.2" r="1.0" fill="#464646" opacity="0.43"/>
<circle cx="23.6" cy="42.4" r="0.9" fill="#464646" opacity="0.82"/>
<circle cx="19.3" cy="33.6" r="0.9" fill="#464646" opacity="0.74"/>
<circle cx="25.9" cy="24.2" r="0.7" fill="#464646" opacity="0.83"/>
<circle cx="24.6" cy="53.3" r="0.7" fill="#464646" opacity="0.89"/>
<circle cx="43.5" cy="49.4" r="0.8" fill="#464646" opacity="0.84"/>
<circle cx="38.6" cy="19.3" r="0.7" fill="#464646" opacity="0.77"/>
<circle cx="30.5" cy="35.8" r="0.7" fill="#464646" opacity="0.76"/>
<circle cx="24.6" cy="6.5" r="0.6" fill="#464646" opacity="0.64"/>
<circle cx="52.8" cy="49.5" r="0.7" fill="#464646" opacity="0.52"/>
<circle cx="31.1" cy="28.5" r="1.0" fill="#464646" opacity="0.48"/>
<circle cx="37.2" cy="60.3" r="0.7" fill="#464646" opacity="0.55"/>
<circle cx="44.3" cy="11.2" r="1.0" fill="#464646" opacity="0.83"/>
<circle cx="46.6" cy="30.7" r="0.8" fill="#464646" opacity="0.63"/>
<rect x="0.4" y="0.4" width="71.9" height="63.8" fill="none" stroke="#2a2a2a" stroke-width="0.8"/>
</svg>
<text x="318.10" y="194.00" font-size="10.1" text-anchor="start" font-weight="bold" font-style="normal" fill="#fff" stroke="#fff" stroke-width="0.35">CFU-M</text>
<svg x="397.2" y="181.6" width="72.7" height="64.6" viewBox="0 0 72.7 64.6">
<defs><filter id="bl5" x="-20%" y="-20%" width="140%" height="140%"><feGaussianBlur stdDeviation="0.9"/></filter><filter id="bb5" x="-50%" y="-50%" width="200%" height="200%"><feGaussianBlur stdDeviation="2.2"/></filter></defs>
<rect width="72.7" height="64.6" fill="#2d2d2d"/>
<g filter="url(#bb5)">
<ellipse cx="38.0" cy="30.0" rx="9.0" ry="11.0" fill="#0e0e0e" opacity="0.95" transform="rotate(0 38.0 30.0)"/>
<ellipse cx="40.0" cy="27.0" rx="5.0" ry="6.0" fill="#0a0a0a" opacity="0.90" transform="rotate(0 40.0 27.0)"/>
</g>
<circle cx="45.3" cy="47.9" r="1.2" fill="#3e3e3e" opacity="0.55"/>
<circle cx="56.4" cy="16.1" r="0.6" fill="#3e3e3e" opacity="0.33"/>
<circle cx="34.1" cy="15.9" r="1.0" fill="#3e3e3e" opacity="0.30"/>
<circle cx="15.8" cy="18.1" r="1.2" fill="#1e1e1e" opacity="0.35"/>
<circle cx="58.0" cy="9.0" r="1.0" fill="#3e3e3e" opacity="0.34"/>
<circle cx="70.7" cy="0.3" r="1.1" fill="#3e3e3e" opacity="0.56"/>
<circle cx="21.0" cy="62.1" r="1.0" fill="#3e3e3e" opacity="0.35"/>
<circle cx="70.4" cy="12.7" r="1.3" fill="#1e1e1e" opacity="0.39"/>
<circle cx="26.3" cy="10.7" r="0.7" fill="#3e3e3e" opacity="0.40"/>
<circle cx="59.4" cy="37.9" r="1.0" fill="#1e1e1e" opacity="0.32"/>
<circle cx="25.8" cy="19.8" r="1.1" fill="#3e3e3e" opacity="0.44"/>
<circle cx="51.2" cy="3.7" r="1.3" fill="#3e3e3e" opacity="0.58"/>
<circle cx="26.0" cy="26.1" r="1.0" fill="#1e1e1e" opacity="0.41"/>
<circle cx="42.1" cy="0.6" r="0.6" fill="#3e3e3e" opacity="0.49"/>
<circle cx="69.4" cy="7.7" r="0.8" fill="#1e1e1e" opacity="0.40"/>
<circle cx="25.8" cy="33.9" r="1.1" fill="#3e3e3e" opacity="0.48"/>
<circle cx="56.8" cy="23.7" r="0.8" fill="#1e1e1e" opacity="0.58"/>
<circle cx="6.6" cy="22.0" r="1.0" fill="#3e3e3e" opacity="0.40"/>
<circle cx="67.2" cy="35.2" r="0.8" fill="#1e1e1e" opacity="0.39"/>
<circle cx="58.1" cy="40.5" r="1.1" fill="#1e1e1e" opacity="0.60"/>
<circle cx="11.7" cy="3.1" r="1.3" fill="#1e1e1e" opacity="0.31"/>
<circle cx="53.8" cy="22.2" r="0.8" fill="#1e1e1e" opacity="0.34"/>
<circle cx="71.2" cy="41.2" r="1.2" fill="#1e1e1e" opacity="0.55"/>
<circle cx="9.5" cy="47.3" r="1.3" fill="#1e1e1e" opacity="0.33"/>
<circle cx="31.6" cy="9.6" r="1.2" fill="#1e1e1e" opacity="0.34"/>
<circle cx="67.0" cy="40.1" r="0.7" fill="#1e1e1e" opacity="0.59"/>
<circle cx="50.1" cy="20.5" r="0.8" fill="#1e1e1e" opacity="0.42"/>
<circle cx="10.7" cy="24.4" r="1.3" fill="#3e3e3e" opacity="0.49"/>
<circle cx="36.3" cy="21.9" r="0.7" fill="#1e1e1e" opacity="0.45"/>
<circle cx="39.8" cy="32.5" r="0.6" fill="#1e1e1e" opacity="0.51"/>
<circle cx="48.3" cy="49.1" r="0.9" fill="#1e1e1e" opacity="0.55"/>
<circle cx="19.3" cy="63.4" r="1.1" fill="#1e1e1e" opacity="0.49"/>
<circle cx="42.2" cy="0.7" r="1.0" fill="#1e1e1e" opacity="0.40"/>
<circle cx="19.9" cy="18.7" r="1.0" fill="#1e1e1e" opacity="0.40"/>
<circle cx="46.8" cy="47.7" r="1.2" fill="#1e1e1e" opacity="0.58"/>
<circle cx="12.5" cy="56.0" r="0.9" fill="#1e1e1e" opacity="0.59"/>
<circle cx="37.7" cy="34.2" r="0.7" fill="#1e1e1e" opacity="0.58"/>
<circle cx="34.7" cy="44.7" r="1.1" fill="#1e1e1e" opacity="0.35"/>
<circle cx="56.7" cy="37.5" r="1.1" fill="#1e1e1e" opacity="0.39"/>
<circle cx="40.2" cy="56.0" r="0.8" fill="#3e3e3e" opacity="0.36"/>
<circle cx="42.6" cy="40.3" r="0.7" fill="#3e3e3e" opacity="0.49"/>
<circle cx="3.0" cy="30.5" r="0.8" fill="#3e3e3e" opacity="0.57"/>
<circle cx="8.1" cy="62.5" r="0.9" fill="#3e3e3e" opacity="0.42"/>
<circle cx="25.5" cy="42.8" r="0.7" fill="#3e3e3e" opacity="0.37"/>
<circle cx="65.7" cy="0.0" r="0.9" fill="#1e1e1e" opacity="0.56"/>
<circle cx="63.0" cy="44.5" r="1.0" fill="#3e3e3e" opacity="0.46"/>
<circle cx="21.9" cy="19.1" r="1.0" fill="#1e1e1e" opacity="0.59"/>
<circle cx="59.5" cy="27.1" r="1.2" fill="#1e1e1e" opacity="0.44"/>
<circle cx="11.4" cy="24.7" r="0.9" fill="#3e3e3e" opacity="0.59"/>
<circle cx="44.2" cy="22.7" r="1.2" fill="#3e3e3e" opacity="0.41"/>
<circle cx="23.7" cy="59.2" r="1.0" fill="#1e1e1e" opacity="0.49"/>
<circle cx="64.8" cy="24.3" r="0.9" fill="#3e3e3e" opacity="0.45"/>
<circle cx="34.9" cy="45.8" r="0.9" fill="#3e3e3e" opacity="0.48"/>
<circle cx="18.9" cy="63.4" r="0.9" fill="#1e1e1e" opacity="0.31"/>
<circle cx="68.7" cy="19.9" r="1.3" fill="#3e3e3e" opacity="0.44"/>
<circle cx="8.9" cy="40.2" r="0.9" fill="#1e1e1e" opacity="0.31"/>
<circle cx="9.9" cy="25.3" r="0.9" fill="#1e1e1e" opacity="0.37"/>
<circle cx="34.5" cy="2.4" r="0.9" fill="#3e3e3e" opacity="0.52"/>
<circle cx="20.8" cy="31.8" r="1.3" fill="#3e3e3e" opacity="0.30"/>
<circle cx="9.2" cy="18.2" r="1.1" fill="#1e1e1e" opacity="0.52"/>
<circle cx="1.9" cy="22.6" r="1.1" fill="#3e3e3e" opacity="0.31"/>
<circle cx="18.4" cy="29.4" r="1.2" fill="#3e3e3e" opacity="0.30"/>
<circle cx="56.6" cy="27.6" r="1.0" fill="#1e1e1e" opacity="0.56"/>
<circle cx="61.2" cy="30.7" r="1.1" fill="#3e3e3e" opacity="0.57"/>
<circle cx="33.8" cy="49.0" r="0.8" fill="#3e3e3e" opacity="0.51"/>
<circle cx="31.5" cy="18.5" r="1.1" fill="#1e1e1e" opacity="0.34"/>
<circle cx="34.8" cy="35.5" r="0.9" fill="#1e1e1e" opacity="0.46"/>
<circle cx="30.9" cy="35.0" r="0.6" fill="#3e3e3e" opacity="0.38"/>
<circle cx="6.2" cy="4.1" r="1.3" fill="#1e1e1e" opacity="0.52"/>
<circle cx="71.2" cy="64.5" r="1.1" fill="#3e3e3e" opacity="0.34"/>
<circle cx="8.9" cy="39.7" r="1.2" fill="#3e3e3e" opacity="0.51"/>
<circle cx="9.8" cy="18.9" r="1.2" fill="#3e3e3e" opacity="0.35"/>
<circle cx="13.5" cy="51.8" r="0.6" fill="#3e3e3e" opacity="0.31"/>
<circle cx="7.9" cy="24.5" r="0.7" fill="#3e3e3e" opacity="0.47"/>
<circle cx="8.6" cy="25.7" r="1.0" fill="#3e3e3e" opacity="0.43"/>
<circle cx="22.9" cy="38.8" r="0.9" fill="#1e1e1e" opacity="0.57"/>
<circle cx="10.0" cy="19.0" r="1.0" fill="#1e1e1e" opacity="0.57"/>
<circle cx="40.3" cy="40.1" r="0.8" fill="#3e3e3e" opacity="0.38"/>
<circle cx="54.6" cy="33.4" r="0.7" fill="#3e3e3e" opacity="0.56"/>
<circle cx="33.0" cy="25.1" r="0.7" fill="#3e3e3e" opacity="0.50"/>
<circle cx="6.2" cy="43.1" r="0.7" fill="#3e3e3e" opacity="0.45"/>
<circle cx="33.0" cy="25.2" r="0.9" fill="#1e1e1e" opacity="0.33"/>
<circle cx="38.6" cy="35.0" r="0.9" fill="#3e3e3e" opacity="0.58"/>
<circle cx="31.2" cy="51.3" r="1.1" fill="#3e3e3e" opacity="0.59"/>
<circle cx="48.4" cy="53.0" r="0.7" fill="#1e1e1e" opacity="0.41"/>
<circle cx="17.1" cy="21.5" r="1.0" fill="#1e1e1e" opacity="0.54"/>
<circle cx="27.5" cy="46.7" r="0.9" fill="#1e1e1e" opacity="0.54"/>
<circle cx="31.5" cy="55.0" r="1.0" fill="#3e3e3e" opacity="0.52"/>
<circle cx="28.8" cy="6.3" r="0.6" fill="#3e3e3e" opacity="0.36"/>
<circle cx="35.6" cy="60.5" r="1.1" fill="#1e1e1e" opacity="0.30"/>
<circle cx="34.2" cy="57.5" r="1.0" fill="#1e1e1e" opacity="0.40"/>
<circle cx="33.6" cy="12.4" r="1.1" fill="#3e3e3e" opacity="0.41"/>
<circle cx="28.0" cy="56.9" r="0.7" fill="#1e1e1e" opacity="0.33"/>
<circle cx="59.5" cy="48.5" r="1.1" fill="#3e3e3e" opacity="0.44"/>
<circle cx="2.3" cy="59.7" r="0.9" fill="#3e3e3e" opacity="0.51"/>
<circle cx="49.0" cy="30.5" r="1.3" fill="#3e3e3e" opacity="0.54"/>
<circle cx="23.6" cy="29.3" r="0.8" fill="#3e3e3e" opacity="0.31"/>
<circle cx="52.0" cy="37.1" r="1.1" fill="#1e1e1e" opacity="0.57"/>
<circle cx="51.4" cy="44.0" r="0.7" fill="#1e1e1e" opacity="0.38"/>
<circle cx="53.2" cy="46.4" r="0.7" fill="#3e3e3e" opacity="0.35"/>
<circle cx="15.2" cy="2.8" r="1.0" fill="#1e1e1e" opacity="0.30"/>
<circle cx="4.4" cy="50.3" r="0.9" fill="#3e3e3e" opacity="0.31"/>
<circle cx="60.7" cy="54.1" r="1.0" fill="#3e3e3e" opacity="0.51"/>
<circle cx="17.2" cy="51.9" r="0.7" fill="#1e1e1e" opacity="0.32"/>
<circle cx="17.7" cy="3.3" r="0.9" fill="#3e3e3e" opacity="0.31"/>
<circle cx="60.6" cy="28.8" r="1.0" fill="#3e3e3e" opacity="0.59"/>
<circle cx="14.1" cy="44.9" r="1.0" fill="#3e3e3e" opacity="0.46"/>
<circle cx="6.1" cy="20.3" r="0.7" fill="#3e3e3e" opacity="0.48"/>
<circle cx="62.3" cy="13.9" r="0.6" fill="#1e1e1e" opacity="0.45"/>
<circle cx="41.5" cy="24.3" r="1.0" fill="#3e3e3e" opacity="0.57"/>
<circle cx="22.4" cy="29.0" r="1.2" fill="#3e3e3e" opacity="0.47"/>
<circle cx="10.1" cy="31.2" r="1.1" fill="#1e1e1e" opacity="0.55"/>
<circle cx="22.7" cy="8.4" r="0.7" fill="#3e3e3e" opacity="0.51"/>
<circle cx="58.1" cy="62.5" r="1.1" fill="#1e1e1e" opacity="0.32"/>
<circle cx="50.9" cy="3.1" r="0.7" fill="#1e1e1e" opacity="0.56"/>
<circle cx="64.4" cy="4.6" r="1.1" fill="#1e1e1e" opacity="0.53"/>
<circle cx="40.4" cy="57.9" r="1.1" fill="#3e3e3e" opacity="0.47"/>
<circle cx="32.1" cy="52.8" r="1.1" fill="#3e3e3e" opacity="0.52"/>
<circle cx="51.0" cy="17.3" r="1.2" fill="#1e1e1e" opacity="0.47"/>
<circle cx="23.4" cy="19.8" r="0.7" fill="#1e1e1e" opacity="0.50"/>
<circle cx="20.8" cy="4.1" r="1.1" fill="#3e3e3e" opacity="0.31"/>
<circle cx="3.7" cy="8.4" r="0.9" fill="#1e1e1e" opacity="0.58"/>
<circle cx="44.5" cy="14.9" r="0.9" fill="#1e1e1e" opacity="0.36"/>
<circle cx="26.0" cy="10.5" r="1.0" fill="#3e3e3e" opacity="0.52"/>
<circle cx="6.9" cy="34.3" r="0.7" fill="#3e3e3e" opacity="0.43"/>
<circle cx="68.2" cy="51.3" r="0.7" fill="#1e1e1e" opacity="0.43"/>
<circle cx="16.6" cy="38.5" r="0.7" fill="#3e3e3e" opacity="0.53"/>
<circle cx="68.1" cy="34.4" r="1.3" fill="#3e3e3e" opacity="0.33"/>
<circle cx="59.2" cy="27.1" r="0.6" fill="#3e3e3e" opacity="0.31"/>
<circle cx="41.9" cy="31.1" r="1.2" fill="#1e1e1e" opacity="0.44"/>
<rect x="43" y="57.3" width="26.5" height="0.8" fill="#999"/>
<rect x="0.4" y="0.4" width="71.9" height="63.8" fill="none" stroke="#2a2a2a" stroke-width="0.8"/>
</svg>
<text x="398.40" y="194.00" font-size="10.1" text-anchor="start" font-weight="bold" font-style="normal" fill="#fff" stroke="#fff" stroke-width="0.35">CFU-GM</text>
<text x="8.00" y="273.80" font-size="12.5" text-anchor="start" font-weight="bold" font-style="normal" fill="#000" stroke="#000" stroke-width="0.25">D</text>
<rect x="75.25" y="377.04" width="10.90" height="5.66" fill="#2b4a88"/>
<line x1="80.70" y1="377.04" x2="80.70" y2="376.30" stroke="#151515" stroke-width="1.4"/>
<line x1="77.85" y1="376.30" x2="83.55" y2="376.30" stroke="#151515" stroke-width="1.5"/>
<circle cx="80.70" cy="370.40" r="1.15" fill="#111"/>
<rect x="91.45" y="380.57" width="10.90" height="2.13" fill="#dd8c17"/>
<line x1="96.90" y1="380.57" x2="96.90" y2="380.03" stroke="#151515" stroke-width="1.4"/>
<line x1="94.05" y1="380.03" x2="99.75" y2="380.03" stroke="#151515" stroke-width="1.5"/>
<circle cx="96.90" cy="374.13" r="1.15" fill="#111"/>
<rect x="117.35" y="372.56" width="10.90" height="10.14" fill="#2b4a88"/>
<line x1="122.80" y1="372.56" x2="122.80" y2="372.03" stroke="#151515" stroke-width="1.4"/>
<line x1="119.95" y1="372.03" x2="125.65" y2="372.03" stroke="#151515" stroke-width="1.5"/>
<rect x="133.55" y="360.83" width="10.90" height="21.87" fill="#dd8c17"/>
<line x1="139.00" y1="360.83" x2="139.00" y2="359.76" stroke="#151515" stroke-width="1.4"/>
<line x1="136.15" y1="359.76" x2="141.85" y2="359.76" stroke="#151515" stroke-width="1.5"/>
<circle cx="139.00" cy="353.86" r="1.15" fill="#111"/>
<rect x="159.55" y="373.10" width="10.90" height="9.60" fill="#2b4a88"/>
<line x1="165.00" y1="373.10" x2="165.00" y2="372.24" stroke="#151515" stroke-width="1.4"/>
<line x1="162.15" y1="372.24" x2="167.85" y2="372.24" stroke="#151515" stroke-width="1.5"/>
<rect x="175.75" y="309.72" width="10.90" height="72.98" fill="#dd8c17"/>
<line x1="181.20" y1="309.72" x2="181.20" y2="309.08" stroke="#151515" stroke-width="1.4"/>
<line x1="178.35" y1="309.08" x2="184.05" y2="309.08" stroke="#151515" stroke-width="1.5"/>
<circle cx="179.30" cy="303.18" r="1.15" fill="#111"/>
<circle cx="183.10" cy="303.18" r="1.15" fill="#111"/>
<line x1="67.40" y1="295.14" x2="67.40" y2="383.30" stroke="#000" stroke-width="1.3"/>
<line x1="64.20" y1="382.70" x2="67.40" y2="382.70" stroke="#000" stroke-width="1.2"/>
<text x="61.40" y="385.60" font-size="8.4" text-anchor="end" font-weight="normal" font-style="normal" fill="#1a1a1a" stroke="#1a1a1a" stroke-width="0.25">0</text>
<line x1="64.20" y1="361.36" x2="67.40" y2="361.36" stroke="#000" stroke-width="1.2"/>
<text x="61.40" y="364.26" font-size="8.4" text-anchor="end" font-weight="normal" font-style="normal" fill="#1a1a1a" stroke="#1a1a1a" stroke-width="0.25">2</text>
<line x1="64.20" y1="340.02" x2="67.40" y2="340.02" stroke="#000" stroke-width="1.2"/>
<text x="61.40" y="342.92" font-size="8.4" text-anchor="end" font-weight="normal" font-style="normal" fill="#1a1a1a" stroke="#1a1a1a" stroke-width="0.25">4</text>
<line x1="64.20" y1="318.68" x2="67.40" y2="318.68" stroke="#000" stroke-width="1.2"/>
<text x="61.40" y="321.58" font-size="8.4" text-anchor="end" font-weight="normal" font-style="normal" fill="#1a1a1a" stroke="#1a1a1a" stroke-width="0.25">6</text>
<line x1="64.20" y1="297.34" x2="67.40" y2="297.34" stroke="#000" stroke-width="1.2"/>
<text x="61.40" y="300.24" font-size="8.4" text-anchor="end" font-weight="normal" font-style="normal" fill="#1a1a1a" stroke="#1a1a1a" stroke-width="0.25">8</text>
<line x1="64.20" y1="382.70" x2="194.40" y2="382.70" stroke="#000" stroke-width="1.3"/>
<line x1="88.80" y1="382.70" x2="88.80" y2="385.70" stroke="#000" stroke-width="1.2"/>
<text x="88.80" y="396.30" font-size="8.35" text-anchor="middle" font-weight="normal" font-style="normal" fill="#1a1a1a" stroke="#1a1a1a" stroke-width="0.25">Day 6+3</text>
<line x1="130.90" y1="382.70" x2="130.90" y2="385.70" stroke="#000" stroke-width="1.2"/>
<text x="130.90" y="396.30" font-size="8.35" text-anchor="middle" font-weight="normal" font-style="normal" fill="#1a1a1a" stroke="#1a1a1a" stroke-width="0.25">Day 6+6</text>
<line x1="173.10" y1="382.70" x2="173.10" y2="385.70" stroke="#000" stroke-width="1.2"/>
<text x="173.10" y="396.30" font-size="8.35" text-anchor="middle" font-weight="normal" font-style="normal" fill="#1a1a1a" stroke="#1a1a1a" stroke-width="0.25">Day 6+9</text>
<text x="131.40" y="289.10" font-size="10.2" text-anchor="middle" font-weight="bold" font-style="italic" fill="#000" stroke="#000" stroke-width="0.25">AHR</text>
<rect x="234.35" y="382.32" width="10.90" height="0.38" fill="#2b4a88"/>
<circle cx="239.80" cy="376.42" r="1.15" fill="#111"/>
<rect x="250.55" y="344.30" width="10.90" height="38.40" fill="#dd8c17"/>
<rect x="250.55" y="325.84" width="10.90" height="10.56" fill="#dd8c17"/>
<line x1="256.00" y1="325.84" x2="256.00" y2="317.11" stroke="#151515" stroke-width="1.4"/>
<line x1="253.15" y1="317.11" x2="258.85" y2="317.11" stroke="#151515" stroke-width="1.5"/>
<circle cx="256.00" cy="311.21" r="1.15" fill="#111"/>
<rect x="276.45" y="382.32" width="10.90" height="0.38" fill="#2b4a88"/>
<circle cx="280.00" cy="376.42" r="1.15" fill="#111"/>
<circle cx="283.80" cy="376.42" r="1.15" fill="#111"/>
<rect x="292.65" y="373.25" width="10.90" height="9.45" fill="#dd8c17"/>
<line x1="298.10" y1="373.25" x2="298.10" y2="373.10" stroke="#151515" stroke-width="1.4"/>
<line x1="295.25" y1="373.10" x2="300.95" y2="373.10" stroke="#151515" stroke-width="1.5"/>
<circle cx="296.20" cy="367.20" r="1.15" fill="#111"/>
<circle cx="300.00" cy="367.20" r="1.15" fill="#111"/>
<rect x="318.65" y="381.55" width="10.90" height="1.15" fill="#2b4a88"/>
<line x1="324.10" y1="381.55" x2="324.10" y2="381.36" stroke="#151515" stroke-width="1.4"/>
<line x1="321.25" y1="381.36" x2="326.95" y2="381.36" stroke="#151515" stroke-width="1.5"/>
<circle cx="324.10" cy="375.46" r="1.15" fill="#111"/>
<rect x="334.85" y="355.82" width="10.90" height="26.88" fill="#dd8c17"/>
<line x1="340.30" y1="355.82" x2="340.30" y2="353.52" stroke="#151515" stroke-width="1.4"/>
<line x1="337.45" y1="353.52" x2="343.15" y2="353.52" stroke="#151515" stroke-width="1.5"/>
<circle cx="338.40" cy="347.62" r="1.15" fill="#111"/>
<circle cx="342.20" cy="347.62" r="1.15" fill="#111"/>
<line x1="226.50" y1="296.50" x2="226.50" y2="336.90" stroke="#000" stroke-width="1.3"/>
<line x1="223.30" y1="336.90" x2="230.10" y2="336.90" stroke="#000" stroke-width="1.3"/>
<line x1="226.50" y1="343.60" x2="226.50" y2="383.30" stroke="#000" stroke-width="1.3"/>
<line x1="223.30" y1="343.60" x2="230.10" y2="343.60" stroke="#000" stroke-width="1.3"/>
<line x1="223.30" y1="297.90" x2="226.50" y2="297.90" stroke="#000" stroke-width="1.2"/>
<text x="220.30" y="300.80" font-size="8.4" text-anchor="end" font-weight="normal" font-style="normal" fill="#1a1a1a" stroke="#1a1a1a" stroke-width="0.25">50</text>
<line x1="223.30" y1="307.60" x2="226.50" y2="307.60" stroke="#000" stroke-width="1.2"/>
<text x="220.30" y="310.50" font-size="8.4" text-anchor="end" font-weight="normal" font-style="normal" fill="#1a1a1a" stroke="#1a1a1a" stroke-width="0.25">45</text>
<line x1="223.30" y1="317.30" x2="226.50" y2="317.30" stroke="#000" stroke-width="1.2"/>
<text x="220.30" y="320.20" font-size="8.4" text-anchor="end" font-weight="normal" font-style="normal" fill="#1a1a1a" stroke="#1a1a1a" stroke-width="0.25">40</text>
<line x1="223.30" y1="327.00" x2="226.50" y2="327.00" stroke="#000" stroke-width="1.2"/>
<text x="220.30" y="329.90" font-size="8.4" text-anchor="end" font-weight="normal" font-style="normal" fill="#1a1a1a" stroke="#1a1a1a" stroke-width="0.25">35</text>
<text x="220.30" y="339.80" font-size="8.4" text-anchor="end" font-weight="normal" font-style="normal" fill="#1a1a1a" stroke="#1a1a1a" stroke-width="0.25">30</text>
<text x="220.30" y="346.50" font-size="8.4" text-anchor="end" font-weight="normal" font-style="normal" fill="#1a1a1a" stroke="#1a1a1a" stroke-width="0.25">10</text>
<line x1="223.30" y1="363.50" x2="226.50" y2="363.50" stroke="#000" stroke-width="1.2"/>
<text x="220.30" y="366.40" font-size="8.4" text-anchor="end" font-weight="normal" font-style="normal" fill="#1a1a1a" stroke="#1a1a1a" stroke-width="0.25">5</text>
<line x1="223.30" y1="382.70" x2="226.50" y2="382.70" stroke="#000" stroke-width="1.2"/>
<text x="220.30" y="385.60" font-size="8.4" text-anchor="end" font-weight="normal" font-style="normal" fill="#1a1a1a" stroke="#1a1a1a" stroke-width="0.25">0</text>
<line x1="223.30" y1="382.70" x2="353.50" y2="382.70" stroke="#000" stroke-width="1.3"/>
<line x1="247.90" y1="382.70" x2="247.90" y2="385.70" stroke="#000" stroke-width="1.2"/>
<text x="247.90" y="396.30" font-size="8.35" text-anchor="middle" font-weight="normal" font-style="normal" fill="#1a1a1a" stroke="#1a1a1a" stroke-width="0.25">Day 6+3</text>
<line x1="290.00" y1="382.70" x2="290.00" y2="385.70" stroke="#000" stroke-width="1.2"/>
<text x="290.00" y="396.30" font-size="8.35" text-anchor="middle" font-weight="normal" font-style="normal" fill="#1a1a1a" stroke="#1a1a1a" stroke-width="0.25">Day 6+6</text>
<line x1="332.20" y1="382.70" x2="332.20" y2="385.70" stroke="#000" stroke-width="1.2"/>
<text x="332.20" y="396.30" font-size="8.35" text-anchor="middle" font-weight="normal" font-style="normal" fill="#1a1a1a" stroke="#1a1a1a" stroke-width="0.25">Day 6+9</text>
<text x="290.50" y="289.10" font-size="10.2" text-anchor="middle" font-weight="bold" font-style="italic" fill="#000" stroke="#000" stroke-width="0.25">CYP1B1</text>
<rect x="388.45" y="339.40" width="10.90" height="43.30" fill="#2b4a88"/>
<line x1="393.90" y1="339.40" x2="393.90" y2="332.27" stroke="#151515" stroke-width="1.4"/>
<line x1="391.05" y1="332.27" x2="396.75" y2="332.27" stroke="#151515" stroke-width="1.5"/>
<rect x="404.65" y="377.27" width="10.90" height="5.43" fill="#dd8c17"/>
<line x1="410.10" y1="377.27" x2="410.10" y2="375.57" stroke="#151515" stroke-width="1.4"/>
<line x1="407.25" y1="375.57" x2="412.95" y2="375.57" stroke="#151515" stroke-width="1.5"/>
<circle cx="410.10" cy="369.67" r="1.15" fill="#111"/>
<rect x="430.55" y="330.40" width="10.90" height="52.30" fill="#2b4a88"/>
<line x1="436.00" y1="330.40" x2="436.00" y2="318.52" stroke="#151515" stroke-width="1.4"/>
<line x1="433.15" y1="318.52" x2="438.85" y2="318.52" stroke="#151515" stroke-width="1.5"/>
<rect x="446.75" y="378.29" width="10.90" height="4.41" fill="#dd8c17"/>
<line x1="452.20" y1="378.29" x2="452.20" y2="377.61" stroke="#151515" stroke-width="1.4"/>
<line x1="449.35" y1="377.61" x2="455.05" y2="377.61" stroke="#151515" stroke-width="1.5"/>
<circle cx="450.30" cy="371.71" r="1.15" fill="#111"/>
<circle cx="454.10" cy="371.71" r="1.15" fill="#111"/>
<rect x="472.75" y="329.38" width="10.90" height="53.32" fill="#2b4a88"/>
<line x1="478.20" y1="329.38" x2="478.20" y2="326.84" stroke="#151515" stroke-width="1.4"/>
<line x1="475.35" y1="326.84" x2="481.05" y2="326.84" stroke="#151515" stroke-width="1.5"/>
<circle cx="478.20" cy="320.94" r="1.15" fill="#111"/>
<rect x="488.95" y="368.95" width="10.90" height="13.75" fill="#dd8c17"/>
<line x1="494.40" y1="368.95" x2="494.40" y2="368.27" stroke="#151515" stroke-width="1.4"/>
<line x1="491.55" y1="368.27" x2="497.25" y2="368.27" stroke="#151515" stroke-width="1.5"/>
<circle cx="494.40" cy="362.37" r="1.15" fill="#111"/>
<line x1="380.60" y1="295.60" x2="380.60" y2="383.30" stroke="#000" stroke-width="1.3"/>
<line x1="377.40" y1="382.70" x2="380.60" y2="382.70" stroke="#000" stroke-width="1.2"/>
<text x="374.60" y="385.60" font-size="8.4" text-anchor="end" font-weight="normal" font-style="normal" fill="#1a1a1a" stroke="#1a1a1a" stroke-width="0.25">0</text>
<line x1="377.40" y1="365.72" x2="380.60" y2="365.72" stroke="#000" stroke-width="1.2"/>
<text x="374.60" y="368.62" font-size="8.4" text-anchor="end" font-weight="normal" font-style="normal" fill="#1a1a1a" stroke="#1a1a1a" stroke-width="0.25">1</text>
<line x1="377.40" y1="348.74" x2="380.60" y2="348.74" stroke="#000" stroke-width="1.2"/>
<text x="374.60" y="351.64" font-size="8.4" text-anchor="end" font-weight="normal" font-style="normal" fill="#1a1a1a" stroke="#1a1a1a" stroke-width="0.25">2</text>
<line x1="377.40" y1="331.76" x2="380.60" y2="331.76" stroke="#000" stroke-width="1.2"/>
<text x="374.60" y="334.66" font-size="8.4" text-anchor="end" font-weight="normal" font-style="normal" fill="#1a1a1a" stroke="#1a1a1a" stroke-width="0.25">3</text>
<line x1="377.40" y1="314.78" x2="380.60" y2="314.78" stroke="#000" stroke-width="1.2"/>
<text x="374.60" y="317.68" font-size="8.4" text-anchor="end" font-weight="normal" font-style="normal" fill="#1a1a1a" stroke="#1a1a1a" stroke-width="0.25">4</text>
<line x1="377.40" y1="297.80" x2="380.60" y2="297.80" stroke="#000" stroke-width="1.2"/>
<text x="374.60" y="300.70" font-size="8.4" text-anchor="end" font-weight="normal" font-style="normal" fill="#1a1a1a" stroke="#1a1a1a" stroke-width="0.25">5</text>
<line x1="377.40" y1="382.70" x2="507.60" y2="382.70" stroke="#000" stroke-width="1.3"/>
<line x1="402.00" y1="382.70" x2="402.00" y2="385.70" stroke="#000" stroke-width="1.2"/>
<text x="402.00" y="396.30" font-size="8.35" text-anchor="middle" font-weight="normal" font-style="normal" fill="#1a1a1a" stroke="#1a1a1a" stroke-width="0.25">Day 6+3</text>
<line x1="444.10" y1="382.70" x2="444.10" y2="385.70" stroke="#000" stroke-width="1.2"/>
<text x="444.10" y="396.30" font-size="8.35" text-anchor="middle" font-weight="normal" font-style="normal" fill="#1a1a1a" stroke="#1a1a1a" stroke-width="0.25">Day 6+6</text>
<line x1="486.30" y1="382.70" x2="486.30" y2="385.70" stroke="#000" stroke-width="1.2"/>
<text x="486.30" y="396.30" font-size="8.35" text-anchor="middle" font-weight="normal" font-style="normal" fill="#1a1a1a" stroke="#1a1a1a" stroke-width="0.25">Day 6+9</text>
<text x="444.60" y="289.10" font-size="10.2" text-anchor="middle" font-weight="bold" font-style="italic" fill="#000" stroke="#000" stroke-width="0.25">GATA1</text>
<rect x="452.90" y="296.80" width="6.80" height="6.40" fill="#2b4a88"/>
<rect x="452.90" y="305.80" width="6.80" height="6.40" fill="#dd8c17"/>
<text x="461.60" y="303.00" font-size="8.15" text-anchor="start" font-weight="normal" font-style="normal" fill="#1a1a1a" stroke="#1a1a1a" stroke-width="0.25">SR1:DMSO</text>
<text x="461.60" y="312.00" font-size="8.15" text-anchor="start" font-weight="normal" font-style="normal" fill="#1a1a1a" stroke="#1a1a1a" stroke-width="0.25">TCDD:DMSO</text>
<text transform="translate(37.5,338.6) rotate(-90) scale(0.94,1)" font-size="9.6" text-anchor="middle" fill="#1a1a1a" stroke="#1a1a1a" stroke-width="0.25">Fold change</text>
<text transform="translate(50.5,338.6) rotate(-90) scale(0.94,1)" font-size="9.6" text-anchor="middle" fill="#1a1a1a" stroke="#1a1a1a" stroke-width="0.25">relative to DMSO</text>
<rect x="75.25" y="459.10" width="10.90" height="57.80" fill="#2b4a88"/>
<line x1="80.70" y1="459.10" x2="80.70" y2="452.43" stroke="#151515" stroke-width="1.4"/>
<line x1="77.85" y1="452.43" x2="83.55" y2="452.43" stroke="#151515" stroke-width="1.5"/>
<circle cx="80.70" cy="446.53" r="1.15" fill="#111"/>
<rect x="91.45" y="508.03" width="10.90" height="8.87" fill="#dd8c17"/>
<line x1="96.90" y1="508.03" x2="96.90" y2="503.13" stroke="#151515" stroke-width="1.4"/>
<line x1="94.05" y1="503.13" x2="99.75" y2="503.13" stroke="#151515" stroke-width="1.5"/>
<rect x="117.35" y="461.13" width="10.90" height="55.77" fill="#2b4a88"/>
<line x1="122.80" y1="461.13" x2="122.80" y2="451.83" stroke="#151515" stroke-width="1.4"/>
<line x1="119.95" y1="451.83" x2="125.65" y2="451.83" stroke="#151515" stroke-width="1.5"/>
<circle cx="122.80" cy="445.94" r="1.15" fill="#111"/>
<rect x="133.55" y="513.69" width="10.90" height="3.21" fill="#dd8c17"/>
<line x1="139.00" y1="513.69" x2="139.00" y2="512.25" stroke="#151515" stroke-width="1.4"/>
<line x1="136.15" y1="512.25" x2="141.85" y2="512.25" stroke="#151515" stroke-width="1.5"/>
<circle cx="139.00" cy="506.35" r="1.15" fill="#111"/>
<rect x="159.55" y="454.62" width="10.90" height="62.28" fill="#2b4a88"/>
<line x1="165.00" y1="454.62" x2="165.00" y2="446.34" stroke="#151515" stroke-width="1.4"/>
<line x1="162.15" y1="446.34" x2="167.85" y2="446.34" stroke="#151515" stroke-width="1.5"/>
<circle cx="165.00" cy="440.44" r="1.15" fill="#111"/>
<rect x="175.75" y="505.91" width="10.90" height="10.99" fill="#dd8c17"/>
<line x1="181.20" y1="505.91" x2="181.20" y2="505.49" stroke="#151515" stroke-width="1.4"/>
<line x1="178.35" y1="505.49" x2="184.05" y2="505.49" stroke="#151515" stroke-width="1.5"/>
<circle cx="179.30" cy="499.59" r="1.15" fill="#111"/>
<circle cx="183.10" cy="499.59" r="1.15" fill="#111"/>
<line x1="67.40" y1="430.20" x2="67.40" y2="517.50" stroke="#000" stroke-width="1.3"/>
<line x1="64.20" y1="516.90" x2="67.40" y2="516.90" stroke="#000" stroke-width="1.2"/>
<text x="61.40" y="519.80" font-size="8.4" text-anchor="end" font-weight="normal" font-style="normal" fill="#1a1a1a" stroke="#1a1a1a" stroke-width="0.25">0</text>
<line x1="64.20" y1="500.00" x2="67.40" y2="500.00" stroke="#000" stroke-width="1.2"/>
<text x="61.40" y="502.90" font-size="8.4" text-anchor="end" font-weight="normal" font-style="normal" fill="#1a1a1a" stroke="#1a1a1a" stroke-width="0.25">2</text>
<line x1="64.20" y1="483.10" x2="67.40" y2="483.10" stroke="#000" stroke-width="1.2"/>
<text x="61.40" y="486.00" font-size="8.4" text-anchor="end" font-weight="normal" font-style="normal" fill="#1a1a1a" stroke="#1a1a1a" stroke-width="0.25">4</text>
<line x1="64.20" y1="466.20" x2="67.40" y2="466.20" stroke="#000" stroke-width="1.2"/>
<text x="61.40" y="469.10" font-size="8.4" text-anchor="end" font-weight="normal" font-style="normal" fill="#1a1a1a" stroke="#1a1a1a" stroke-width="0.25">6</text>
<line x1="64.20" y1="449.30" x2="67.40" y2="449.30" stroke="#000" stroke-width="1.2"/>
<text x="61.40" y="452.20" font-size="8.4" text-anchor="end" font-weight="normal" font-style="normal" fill="#1a1a1a" stroke="#1a1a1a" stroke-width="0.25">8</text>
<line x1="64.20" y1="432.40" x2="67.40" y2="432.40" stroke="#000" stroke-width="1.2"/>
<text x="61.40" y="435.30" font-size="8.4" text-anchor="end" font-weight="normal" font-style="normal" fill="#1a1a1a" stroke="#1a1a1a" stroke-width="0.25">10</text>
<line x1="64.20" y1="516.90" x2="194.40" y2="516.90" stroke="#000" stroke-width="1.3"/>
<line x1="88.80" y1="516.90" x2="88.80" y2="519.90" stroke="#000" stroke-width="1.2"/>
<text x="88.80" y="530.50" font-size="8.35" text-anchor="middle" font-weight="normal" font-style="normal" fill="#1a1a1a" stroke="#1a1a1a" stroke-width="0.25">Day 6+3</text>
<line x1="130.90" y1="516.90" x2="130.90" y2="519.90" stroke="#000" stroke-width="1.2"/>
<text x="130.90" y="530.50" font-size="8.35" text-anchor="middle" font-weight="normal" font-style="normal" fill="#1a1a1a" stroke="#1a1a1a" stroke-width="0.25">Day 6+6</text>
<line x1="173.10" y1="516.90" x2="173.10" y2="519.90" stroke="#000" stroke-width="1.2"/>
<text x="173.10" y="530.50" font-size="8.35" text-anchor="middle" font-weight="normal" font-style="normal" fill="#1a1a1a" stroke="#1a1a1a" stroke-width="0.25">Day 6+9</text>
<text x="131.40" y="423.50" font-size="10.2" text-anchor="middle" font-weight="bold" font-style="italic" fill="#000" stroke="#000" stroke-width="0.25">GATA2</text>
<rect x="234.35" y="453.54" width="10.90" height="63.36" fill="#2b4a88"/>
<line x1="239.80" y1="453.54" x2="239.80" y2="445.80" stroke="#151515" stroke-width="1.4"/>
<line x1="236.95" y1="445.80" x2="242.65" y2="445.80" stroke="#151515" stroke-width="1.5"/>
<circle cx="239.80" cy="439.90" r="1.15" fill="#111"/>
<rect x="250.55" y="512.11" width="10.90" height="4.79" fill="#dd8c17"/>
<line x1="256.00" y1="512.11" x2="256.00" y2="511.83" stroke="#151515" stroke-width="1.4"/>
<line x1="253.15" y1="511.83" x2="258.85" y2="511.83" stroke="#151515" stroke-width="1.5"/>
<circle cx="254.10" cy="505.93" r="1.15" fill="#111"/>
<circle cx="257.90" cy="505.93" r="1.15" fill="#111"/>
<rect x="276.45" y="494.37" width="10.90" height="22.53" fill="#2b4a88"/>
<line x1="281.90" y1="494.37" x2="281.90" y2="491.27" stroke="#151515" stroke-width="1.4"/>
<line x1="279.05" y1="491.27" x2="284.75" y2="491.27" stroke="#151515" stroke-width="1.5"/>
<rect x="292.65" y="509.72" width="10.90" height="7.18" fill="#dd8c17"/>
<line x1="298.10" y1="509.72" x2="298.10" y2="509.44" stroke="#151515" stroke-width="1.4"/>
<line x1="295.25" y1="509.44" x2="300.95" y2="509.44" stroke="#151515" stroke-width="1.5"/>
<circle cx="296.20" cy="503.54" r="1.15" fill="#111"/>
<circle cx="300.00" cy="503.54" r="1.15" fill="#111"/>
<rect x="318.65" y="468.89" width="10.90" height="48.01" fill="#2b4a88"/>
<line x1="324.10" y1="468.89" x2="324.10" y2="463.26" stroke="#151515" stroke-width="1.4"/>
<line x1="321.25" y1="463.26" x2="326.95" y2="463.26" stroke="#151515" stroke-width="1.5"/>
<circle cx="324.10" cy="457.36" r="1.15" fill="#111"/>
<rect x="334.85" y="508.17" width="10.90" height="8.73" fill="#dd8c17"/>
<line x1="340.30" y1="508.17" x2="340.30" y2="507.75" stroke="#151515" stroke-width="1.4"/>
<line x1="337.45" y1="507.75" x2="343.15" y2="507.75" stroke="#151515" stroke-width="1.5"/>
<circle cx="338.40" cy="501.85" r="1.15" fill="#111"/>
<circle cx="342.20" cy="501.85" r="1.15" fill="#111"/>
<line x1="226.50" y1="430.22" x2="226.50" y2="517.50" stroke="#000" stroke-width="1.3"/>
<line x1="223.30" y1="516.90" x2="226.50" y2="516.90" stroke="#000" stroke-width="1.2"/>
<text x="220.50" y="519.80" font-size="8.4" text-anchor="end" font-weight="normal" font-style="normal" fill="#1a1a1a" stroke="#1a1a1a" stroke-width="0.25">0</text>
<line x1="223.30" y1="488.74" x2="226.50" y2="488.74" stroke="#000" stroke-width="1.2"/>
<text x="220.50" y="491.64" font-size="8.4" text-anchor="end" font-weight="normal" font-style="normal" fill="#1a1a1a" stroke="#1a1a1a" stroke-width="0.25">2</text>
<line x1="223.30" y1="460.58" x2="226.50" y2="460.58" stroke="#000" stroke-width="1.2"/>
<text x="220.50" y="463.48" font-size="8.4" text-anchor="end" font-weight="normal" font-style="normal" fill="#1a1a1a" stroke="#1a1a1a" stroke-width="0.25">4</text>
<line x1="223.30" y1="432.42" x2="226.50" y2="432.42" stroke="#000" stroke-width="1.2"/>
<text x="220.50" y="435.32" font-size="8.4" text-anchor="end" font-weight="normal" font-style="normal" fill="#1a1a1a" stroke="#1a1a1a" stroke-width="0.25">6</text>
<line x1="223.30" y1="516.90" x2="353.50" y2="516.90" stroke="#000" stroke-width="1.3"/>
<line x1="247.90" y1="516.90" x2="247.90" y2="519.90" stroke="#000" stroke-width="1.2"/>
<text x="247.90" y="530.50" font-size="8.35" text-anchor="middle" font-weight="normal" font-style="normal" fill="#1a1a1a" stroke="#1a1a1a" stroke-width="0.25">Day 6+3</text>
<line x1="290.00" y1="516.90" x2="290.00" y2="519.90" stroke="#000" stroke-width="1.2"/>
<text x="290.00" y="530.50" font-size="8.35" text-anchor="middle" font-weight="normal" font-style="normal" fill="#1a1a1a" stroke="#1a1a1a" stroke-width="0.25">Day 6+6</text>
<line x1="332.20" y1="516.90" x2="332.20" y2="519.90" stroke="#000" stroke-width="1.2"/>
<text x="332.20" y="530.50" font-size="8.35" text-anchor="middle" font-weight="normal" font-style="normal" fill="#1a1a1a" stroke="#1a1a1a" stroke-width="0.25">Day 6+9</text>
<text x="290.50" y="423.50" font-size="10.2" text-anchor="middle" font-weight="bold" font-style="italic" fill="#000" stroke="#000" stroke-width="0.25">PU.1</text>
<rect x="388.45" y="494.37" width="10.90" height="22.53" fill="#2b4a88"/>
<line x1="393.90" y1="494.37" x2="393.90" y2="493.25" stroke="#151515" stroke-width="1.4"/>
<line x1="391.05" y1="493.25" x2="396.75" y2="493.25" stroke="#151515" stroke-width="1.5"/>
<circle cx="393.90" cy="487.35" r="1.15" fill="#111"/>
<rect x="404.65" y="498.31" width="10.90" height="18.59" fill="#dd8c17"/>
<line x1="410.10" y1="498.31" x2="410.10" y2="497.75" stroke="#151515" stroke-width="1.4"/>
<line x1="407.25" y1="497.75" x2="412.95" y2="497.75" stroke="#151515" stroke-width="1.5"/>
<circle cx="410.10" cy="491.85" r="1.15" fill="#111"/>
<rect x="430.55" y="483.25" width="10.90" height="33.65" fill="#2b4a88"/>
<line x1="436.00" y1="483.25" x2="436.00" y2="480.29" stroke="#151515" stroke-width="1.4"/>
<line x1="433.15" y1="480.29" x2="438.85" y2="480.29" stroke="#151515" stroke-width="1.5"/>
<circle cx="436.00" cy="474.39" r="1.15" fill="#111"/>
<rect x="446.75" y="499.72" width="10.90" height="17.18" fill="#dd8c17"/>
<line x1="452.20" y1="499.72" x2="452.20" y2="499.30" stroke="#151515" stroke-width="1.4"/>
<line x1="449.35" y1="499.30" x2="455.05" y2="499.30" stroke="#151515" stroke-width="1.5"/>
<rect x="472.75" y="451.85" width="10.90" height="65.05" fill="#2b4a88"/>
<line x1="478.20" y1="451.85" x2="478.20" y2="443.68" stroke="#151515" stroke-width="1.4"/>
<line x1="475.35" y1="443.68" x2="481.05" y2="443.68" stroke="#151515" stroke-width="1.5"/>
<circle cx="478.20" cy="437.78" r="1.15" fill="#111"/>
<rect x="488.95" y="492.26" width="10.90" height="24.64" fill="#dd8c17"/>
<line x1="494.40" y1="492.26" x2="494.40" y2="491.56" stroke="#151515" stroke-width="1.4"/>
<line x1="491.55" y1="491.56" x2="497.25" y2="491.56" stroke="#151515" stroke-width="1.5"/>
<circle cx="494.40" cy="485.66" r="1.15" fill="#111"/>
<line x1="380.60" y1="430.22" x2="380.60" y2="517.50" stroke="#000" stroke-width="1.3"/>
<line x1="377.40" y1="516.90" x2="380.60" y2="516.90" stroke="#000" stroke-width="1.2"/>
<text x="374.60" y="519.80" font-size="8.4" text-anchor="end" font-weight="normal" font-style="normal" fill="#1a1a1a" stroke="#1a1a1a" stroke-width="0.25">0</text>
<line x1="377.40" y1="488.74" x2="380.60" y2="488.74" stroke="#000" stroke-width="1.2"/>
<text x="374.60" y="491.64" font-size="8.4" text-anchor="end" font-weight="normal" font-style="normal" fill="#1a1a1a" stroke="#1a1a1a" stroke-width="0.25">2</text>
<line x1="377.40" y1="460.58" x2="380.60" y2="460.58" stroke="#000" stroke-width="1.2"/>
<text x="374.60" y="463.48" font-size="8.4" text-anchor="end" font-weight="normal" font-style="normal" fill="#1a1a1a" stroke="#1a1a1a" stroke-width="0.25">4</text>
<line x1="377.40" y1="432.42" x2="380.60" y2="432.42" stroke="#000" stroke-width="1.2"/>
<text x="374.60" y="435.32" font-size="8.4" text-anchor="end" font-weight="normal" font-style="normal" fill="#1a1a1a" stroke="#1a1a1a" stroke-width="0.25">6</text>
<line x1="377.40" y1="516.90" x2="507.60" y2="516.90" stroke="#000" stroke-width="1.3"/>
<line x1="402.00" y1="516.90" x2="402.00" y2="519.90" stroke="#000" stroke-width="1.2"/>
<text x="402.00" y="530.50" font-size="8.35" text-anchor="middle" font-weight="normal" font-style="normal" fill="#1a1a1a" stroke="#1a1a1a" stroke-width="0.25">Day 6+3</text>
<line x1="444.10" y1="516.90" x2="444.10" y2="519.90" stroke="#000" stroke-width="1.2"/>
<text x="444.10" y="530.50" font-size="8.35" text-anchor="middle" font-weight="normal" font-style="normal" fill="#1a1a1a" stroke="#1a1a1a" stroke-width="0.25">Day 6+6</text>
<line x1="486.30" y1="516.90" x2="486.30" y2="519.90" stroke="#000" stroke-width="1.2"/>
<text x="486.30" y="530.50" font-size="8.35" text-anchor="middle" font-weight="normal" font-style="normal" fill="#1a1a1a" stroke="#1a1a1a" stroke-width="0.25">Day 6+9</text>
<text x="444.60" y="423.50" font-size="10.2" text-anchor="middle" font-weight="bold" font-style="italic" fill="#000" stroke="#000" stroke-width="0.25">CMYB</text>
<text transform="translate(32.2,472.8) rotate(-90) scale(0.94,1)" font-size="9.6" text-anchor="middle" fill="#1a1a1a" stroke="#1a1a1a" stroke-width="0.25">Fold change</text>
<text transform="translate(45.4,472.8) rotate(-90) scale(0.94,1)" font-size="9.6" text-anchor="middle" fill="#1a1a1a" stroke="#1a1a1a" stroke-width="0.25">relative to DMSO</text>
<rect x="0.00" y="0.00" width="520.00" height="1.50" fill="#000"/>
<rect x="0.00" y="0.00" width="1.50" height="540.00" fill="#000"/>
<rect x="518.00" y="0.00" width="2.00" height="540.00" fill="#000"/>
<rect x="0.00" y="538.00" width="520.00" height="2.00" fill="#000"/>
</svg>
</body></html>
